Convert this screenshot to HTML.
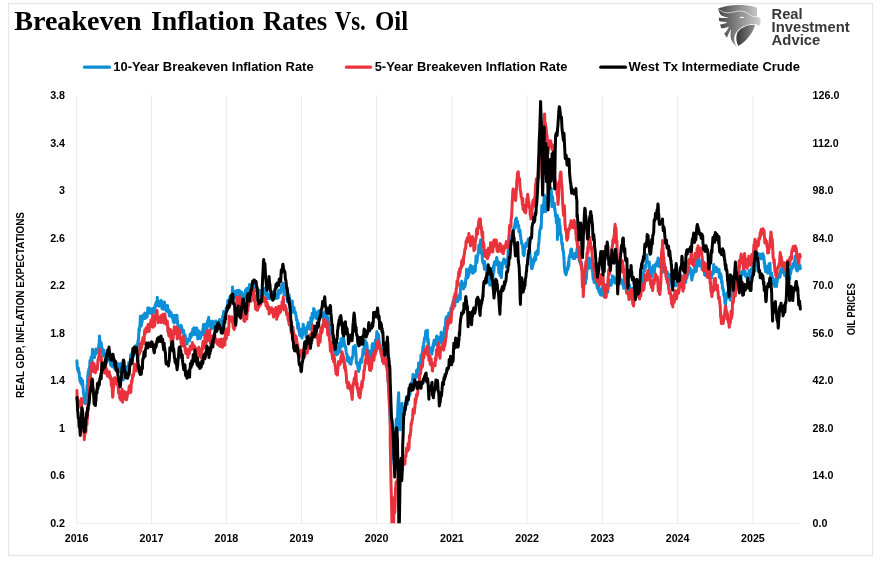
<!DOCTYPE html>
<html><head><meta charset="utf-8"><title>Breakeven Inflation Rates Vs. Oil</title>
<style>html,body{margin:0;padding:0;background:#fff;}body{width:882px;height:565px;position:relative;overflow:hidden}</style>
</head><body>
<svg width="882" height="565" viewBox="0 0 882 565" style="position:absolute;left:0;top:0">
<defs><clipPath id="pc"><rect x="70" y="90" width="740" height="433.3"/></clipPath><linearGradient id="lgA" x1="0" y1="0" x2="1" y2="0"><stop offset="0" stop-color="#3a3a3a"/><stop offset="1" stop-color="#b4b4b4"/></linearGradient><linearGradient id="lgB" x1="0" y1="0" x2="1" y2="0"><stop offset="0" stop-color="#454545"/><stop offset="0.5" stop-color="#8c8c8c"/><stop offset="1" stop-color="#d0d0d0"/></linearGradient><linearGradient id="lgC" x1="0" y1="0" x2="1" y2="0"><stop offset="0" stop-color="#363636"/><stop offset="1" stop-color="#8e8e8e"/></linearGradient></defs>
<rect x="0" y="0" width="882" height="565" fill="#fff"/>
<rect x="8.5" y="3.5" width="864" height="552" fill="none" stroke="#e6e6e6" stroke-width="1.2"/>
<path d="M76.6 95.5 V523.0 M151.5 95.5 V523.0 M226.4 95.5 V523.0 M301.5 95.5 V523.0 M376.6 95.5 V523.0 M451.9 95.5 V523.0 M527.1 95.5 V523.0 M602.4 95.5 V523.0 M677.6 95.5 V523.0 M752.9 95.5 V523.0 M76.5 523.5 H800.0" stroke="#ececec" stroke-width="1" fill="none"/>
<g clip-path="url(#pc)" fill="none" stroke-linejoin="round" stroke-linecap="round">
<path d="M76.9 360.8 L77.2 366.1 L77.5 369.8 L77.8 369.0 L78.1 368.0 L78.4 368.2 L78.6 372.5 L78.9 372.7 L79.2 372.1 L79.5 376.8 L79.8 379.0 L80.1 381.5 L80.3 379.5 L80.6 381.8 L80.9 383.2 L81.2 378.4 L81.5 381.2 L81.7 380.8 L82.0 385.1 L82.3 380.3 L82.6 381.3 L82.9 387.2 L83.2 388.6 L83.4 393.0 L83.7 393.3 L84.0 396.9 L84.3 402.2 L84.6 403.2 L84.9 402.7 L85.2 400.1 L85.5 403.7 L85.8 400.5 L86.0 399.0 L86.3 395.1 L86.6 393.9 L86.9 388.5 L87.1 385.6 L87.4 383.9 L87.7 377.0 L88.0 374.5 L88.3 371.5 L88.6 374.9 L88.8 369.0 L89.1 368.9 L89.4 368.3 L89.7 365.2 L90.0 360.4 L90.3 364.5 L90.5 361.9 L90.8 363.3 L91.1 357.6 L91.4 356.8 L91.7 359.9 L92.0 360.6 L92.3 352.9 L92.5 349.3 L92.8 350.3 L93.1 353.6 L93.4 353.5 L93.7 354.2 L94.0 351.4 L94.2 354.7 L94.5 357.5 L94.8 354.8 L95.1 350.7 L95.4 350.8 L95.7 354.3 L95.9 349.0 L96.2 351.0 L96.5 349.2 L96.8 350.4 L97.1 349.7 L97.4 349.5 L97.7 352.5 L98.0 350.2 L98.3 351.1 L98.6 347.0 L98.9 344.1 L99.2 344.6 L99.5 336.0 L99.8 339.4 L100.1 343.0 L100.4 341.8 L100.7 346.7 L101.0 346.8 L101.3 343.1 L101.6 347.4 L101.9 347.3 L102.2 348.8 L102.5 350.6 L102.8 355.0 L103.1 354.0 L103.4 353.7 L103.7 354.9 L104.0 350.2 L104.3 356.6 L104.6 353.4 L104.9 356.4 L105.1 353.9 L105.4 353.8 L105.7 355.6 L106.0 362.0 L106.3 361.3 L106.6 358.0 L106.9 357.7 L107.2 355.6 L107.5 357.8 L107.8 357.3 L108.1 360.5 L108.4 356.5 L108.7 357.9 L109.0 357.2 L109.3 357.4 L109.6 361.2 L109.9 361.2 L110.2 362.4 L110.5 364.6 L110.8 365.3 L111.1 359.3 L111.4 362.2 L111.7 357.5 L112.0 360.5 L112.3 366.8 L112.6 363.9 L112.9 362.8 L113.2 364.0 L113.5 364.3 L113.8 364.6 L114.0 363.0 L114.3 367.4 L114.6 368.7 L114.9 366.2 L115.3 366.7 L115.6 367.7 L115.9 369.0 L116.2 367.9 L116.5 368.2 L116.8 365.9 L117.1 363.1 L117.4 363.5 L117.7 367.5 L118.0 368.8 L118.3 367.2 L118.6 364.8 L118.9 366.5 L119.2 370.6 L119.5 371.5 L119.7 366.9 L120.0 367.0 L120.3 363.7 L120.6 363.5 L120.9 367.8 L121.2 369.7 L121.4 373.4 L121.7 376.3 L122.0 376.9 L122.3 379.1 L122.6 375.9 L122.9 372.0 L123.1 374.2 L123.4 380.0 L123.7 375.5 L124.0 369.6 L124.3 370.5 L124.6 373.3 L124.9 368.1 L125.2 370.8 L125.5 368.1 L125.8 371.8 L126.1 371.7 L126.3 370.3 L126.6 374.0 L126.9 369.1 L127.2 366.5 L127.5 371.9 L127.8 366.2 L128.2 371.5 L128.5 367.2 L128.8 362.6 L129.1 363.2 L129.4 363.2 L129.7 362.9 L130.0 361.3 L130.3 363.5 L130.6 355.1 L130.9 356.2 L131.2 356.8 L131.5 361.8 L131.8 353.4 L132.1 354.1 L132.4 351.9 L132.7 351.8 L133.0 354.5 L133.3 354.4 L133.6 356.5 L133.9 351.6 L134.3 351.6 L134.6 353.3 L134.9 352.8 L135.2 349.0 L135.5 350.8 L135.8 345.7 L136.1 350.2 L136.5 347.1 L136.8 344.7 L137.0 344.3 L137.3 345.1 L137.6 347.1 L137.9 342.5 L138.2 339.7 L138.5 340.6 L138.7 334.8 L139.0 328.8 L139.3 331.4 L139.6 327.4 L139.8 328.0 L140.1 323.0 L140.4 316.2 L140.7 321.4 L141.0 322.4 L141.3 326.0 L141.6 324.1 L141.8 322.5 L142.1 322.2 L142.4 319.2 L142.7 319.0 L143.0 314.9 L143.3 317.8 L143.6 315.1 L143.9 314.6 L144.2 317.0 L144.5 318.0 L144.8 313.1 L145.1 318.6 L145.4 313.6 L145.7 315.4 L146.0 316.2 L146.3 314.5 L146.6 313.6 L146.9 317.3 L147.2 316.1 L147.5 314.4 L147.8 307.9 L148.1 308.2 L148.4 313.0 L148.8 312.1 L149.1 308.7 L149.4 308.2 L149.7 308.8 L150.0 311.5 L150.3 311.7 L150.6 313.2 L150.9 309.1 L151.2 312.2 L151.5 309.5 L151.8 309.0 L152.1 313.9 L152.4 311.4 L152.7 309.9 L153.0 309.1 L153.3 308.4 L153.6 312.2 L153.9 312.4 L154.3 310.3 L154.6 307.6 L154.9 308.2 L155.2 305.0 L155.5 304.7 L155.8 303.8 L156.1 302.2 L156.4 304.9 L156.7 305.6 L157.0 305.4 L157.3 297.3 L157.6 304.2 L157.9 304.0 L158.1 301.2 L158.4 301.5 L158.7 304.8 L159.0 306.2 L159.3 306.1 L159.6 304.2 L159.9 303.2 L160.2 304.9 L160.5 303.2 L160.8 300.5 L161.1 300.3 L161.4 301.4 L161.7 303.0 L162.0 308.8 L162.2 301.8 L162.5 304.3 L162.8 303.9 L163.1 305.0 L163.4 308.3 L163.7 309.3 L164.0 306.4 L164.2 304.5 L164.5 302.1 L164.8 304.6 L165.1 309.1 L165.4 307.0 L165.7 308.9 L166.0 309.8 L166.3 309.5 L166.6 311.3 L166.9 309.1 L167.2 306.7 L167.5 305.4 L167.8 310.6 L168.1 309.5 L168.4 309.5 L168.7 312.8 L169.0 310.1 L169.3 316.0 L169.6 315.6 L169.9 312.7 L170.2 311.8 L170.5 316.1 L170.8 312.2 L171.1 312.6 L171.4 314.6 L171.7 316.2 L172.0 316.6 L172.3 318.0 L172.6 316.9 L172.9 317.5 L173.2 321.5 L173.5 321.2 L173.8 318.5 L174.1 323.0 L174.4 315.3 L174.7 317.9 L175.0 320.4 L175.3 322.1 L175.6 320.6 L175.9 318.8 L176.2 320.7 L176.4 320.3 L176.7 322.3 L177.0 315.2 L177.3 321.4 L177.6 321.2 L177.9 326.1 L178.1 327.8 L178.4 328.5 L178.7 326.1 L179.0 327.7 L179.3 326.5 L179.6 327.8 L179.9 327.6 L180.2 325.9 L180.5 332.8 L180.8 332.3 L181.1 325.3 L181.4 330.8 L181.7 327.3 L182.0 329.4 L182.3 329.7 L182.6 330.3 L182.9 332.8 L183.2 332.7 L183.5 330.2 L183.8 333.3 L184.1 335.7 L184.4 340.7 L184.7 337.5 L185.0 334.9 L185.3 336.5 L185.6 340.3 L185.9 338.2 L186.2 338.4 L186.5 342.2 L186.8 342.6 L187.1 343.9 L187.3 341.3 L187.6 339.5 L187.9 339.8 L188.2 340.0 L188.5 339.2 L188.8 340.5 L189.0 340.9 L189.3 340.8 L189.6 340.4 L189.9 336.5 L190.2 334.3 L190.5 338.1 L190.8 337.2 L191.1 336.9 L191.4 333.3 L191.7 334.2 L192.0 333.2 L192.3 331.8 L192.6 331.5 L192.9 328.8 L193.2 331.5 L193.5 334.8 L193.8 330.8 L194.1 331.1 L194.4 327.8 L194.7 330.7 L195.0 334.3 L195.3 328.6 L195.6 329.5 L195.9 334.4 L196.2 333.8 L196.5 333.4 L196.8 328.1 L197.1 331.5 L197.4 335.7 L197.7 338.9 L198.0 338.4 L198.3 335.2 L198.5 334.0 L198.8 330.9 L199.1 331.9 L199.4 338.0 L199.7 337.2 L200.0 334.0 L200.3 338.7 L200.6 332.2 L200.9 336.9 L201.2 334.0 L201.4 334.1 L201.7 334.5 L202.0 333.1 L202.3 334.6 L202.6 331.5 L202.9 329.0 L203.2 327.3 L203.5 324.5 L203.8 325.2 L204.1 329.5 L204.4 330.4 L204.7 332.0 L205.0 335.7 L205.3 331.7 L205.6 329.6 L205.9 324.1 L206.2 324.7 L206.5 331.0 L206.8 328.8 L207.1 326.2 L207.4 326.3 L207.7 320.6 L208.0 321.1 L208.4 320.0 L208.7 317.3 L209.0 323.6 L209.3 326.1 L209.6 324.0 L209.9 324.4 L210.2 321.2 L210.5 323.8 L210.8 325.5 L211.1 328.0 L211.4 329.0 L211.7 326.6 L212.0 324.2 L212.3 321.6 L212.6 321.2 L212.9 324.2 L213.2 325.1 L213.5 324.1 L213.8 327.8 L214.2 326.8 L214.5 324.9 L214.8 323.8 L215.1 324.2 L215.4 321.8 L215.7 321.0 L216.0 324.2 L216.3 323.1 L216.6 323.5 L216.9 327.6 L217.2 325.5 L217.5 328.7 L217.8 326.6 L218.1 329.5 L218.4 327.8 L218.7 321.4 L219.0 326.7 L219.3 324.8 L219.6 319.6 L220.0 322.9 L220.3 324.1 L220.6 320.7 L220.9 321.2 L221.2 324.2 L221.5 327.3 L221.8 327.6 L222.1 327.2 L222.4 326.3 L222.7 316.3 L223.0 316.7 L223.3 318.7 L223.6 311.6 L223.9 317.3 L224.2 319.1 L224.5 315.0 L224.8 314.1 L225.1 311.6 L225.4 312.4 L225.7 312.0 L226.0 311.3 L226.2 307.9 L226.5 309.6 L226.8 307.7 L227.1 309.6 L227.4 308.1 L227.7 302.3 L228.0 300.2 L228.3 302.9 L228.6 302.0 L228.9 303.8 L229.2 304.8 L229.5 302.8 L229.8 297.4 L230.1 296.4 L230.4 300.1 L230.7 296.9 L231.0 300.7 L231.3 298.4 L231.6 298.7 L231.9 294.7 L232.2 294.8 L232.5 287.1 L232.8 290.8 L233.1 293.6 L233.4 291.5 L233.7 291.1 L234.0 293.2 L234.2 294.5 L234.5 293.0 L234.8 296.5 L235.1 292.1 L235.4 297.7 L235.7 293.6 L236.0 293.2 L236.2 298.2 L236.5 293.9 L236.8 290.5 L237.1 293.5 L237.4 291.8 L237.7 290.7 L238.0 291.3 L238.2 291.3 L238.5 290.7 L238.8 290.3 L239.1 296.7 L239.4 293.1 L239.7 296.0 L240.0 290.9 L240.3 294.6 L240.6 291.8 L240.9 293.2 L241.2 296.9 L241.4 295.6 L241.7 291.9 L242.0 294.6 L242.3 296.9 L242.6 299.9 L242.9 297.4 L243.2 297.7 L243.5 298.4 L243.8 294.1 L244.1 296.2 L244.4 294.9 L244.7 297.4 L245.0 296.6 L245.3 295.9 L245.6 289.7 L245.9 293.2 L246.2 293.0 L246.5 290.9 L246.8 290.7 L247.0 288.2 L247.3 290.4 L247.6 291.9 L247.9 291.7 L248.2 288.9 L248.5 293.4 L248.7 292.8 L249.0 288.0 L249.3 288.2 L249.6 284.4 L249.9 286.9 L250.2 290.0 L250.4 292.6 L250.7 289.3 L251.0 284.8 L251.3 287.4 L251.6 292.3 L251.9 291.0 L252.2 293.2 L252.5 292.7 L252.8 294.2 L253.1 292.2 L253.4 288.2 L253.7 289.4 L253.9 295.0 L254.2 289.1 L254.5 283.6 L254.8 291.5 L255.1 290.5 L255.4 287.7 L255.7 287.1 L256.0 284.8 L256.3 289.9 L256.6 290.5 L256.9 289.0 L257.2 289.3 L257.5 289.6 L257.8 293.8 L258.1 292.0 L258.4 295.5 L258.7 291.1 L259.0 290.2 L259.3 290.3 L259.6 290.2 L259.9 291.4 L260.2 294.7 L260.5 296.4 L260.8 291.3 L261.1 295.4 L261.4 293.9 L261.7 297.1 L262.0 293.8 L262.3 290.9 L262.6 294.1 L262.9 294.7 L263.2 292.2 L263.5 292.6 L263.8 293.0 L264.2 293.5 L264.5 288.6 L264.8 288.2 L265.1 291.4 L265.4 293.2 L265.7 292.0 L266.0 288.6 L266.2 295.3 L266.5 293.7 L266.8 291.3 L267.1 297.3 L267.4 298.4 L267.7 298.6 L268.0 298.5 L268.3 297.9 L268.6 294.0 L268.9 295.4 L269.2 296.9 L269.5 298.3 L269.8 298.6 L270.1 295.1 L270.4 295.1 L270.7 296.0 L271.0 296.5 L271.3 294.8 L271.6 291.8 L271.9 292.2 L272.2 296.1 L272.5 296.7 L272.8 298.3 L273.1 292.5 L273.4 294.2 L273.7 298.0 L274.0 291.9 L274.3 291.9 L274.6 290.3 L274.9 296.9 L275.2 296.1 L275.5 294.1 L275.8 295.2 L276.1 294.8 L276.4 297.0 L276.7 298.4 L277.0 298.1 L277.3 296.4 L277.6 296.7 L277.9 296.8 L278.2 297.6 L278.5 290.2 L278.8 293.0 L279.0 293.2 L279.3 293.3 L279.6 292.2 L279.9 292.0 L280.2 293.2 L280.5 292.7 L280.8 292.1 L281.1 288.7 L281.4 286.8 L281.7 287.3 L282.0 284.6 L282.3 286.7 L282.6 286.4 L282.9 284.1 L283.2 283.1 L283.5 286.5 L283.8 287.5 L284.0 294.9 L284.3 294.3 L284.6 290.0 L284.9 289.8 L285.2 288.8 L285.5 289.4 L285.8 291.1 L286.1 292.8 L286.4 292.4 L286.7 296.3 L287.0 297.6 L287.3 301.7 L287.6 295.3 L287.9 298.5 L288.2 297.3 L288.5 294.2 L288.8 296.8 L289.1 294.7 L289.4 298.4 L289.7 307.1 L290.0 306.9 L290.3 308.5 L290.6 307.9 L290.9 301.2 L291.2 304.3 L291.4 305.1 L291.7 306.6 L292.0 303.9 L292.3 301.0 L292.6 310.7 L292.9 312.3 L293.2 311.1 L293.5 309.1 L293.8 310.4 L294.1 307.6 L294.4 312.6 L294.7 312.7 L294.9 312.3 L295.2 311.8 L295.5 312.9 L295.8 315.0 L296.1 315.4 L296.4 319.8 L296.6 320.4 L296.9 320.8 L297.2 319.9 L297.5 325.8 L297.8 328.6 L298.1 328.9 L298.4 323.3 L298.6 325.8 L298.9 330.8 L299.2 330.9 L299.5 334.8 L299.8 332.3 L300.1 335.1 L300.3 335.9 L300.6 329.3 L300.9 332.7 L301.2 334.8 L301.5 335.1 L301.8 333.2 L302.0 338.0 L302.3 334.6 L302.6 335.0 L302.9 329.0 L303.2 324.3 L303.5 326.0 L303.7 329.4 L304.0 327.9 L304.3 330.7 L304.6 332.5 L304.9 330.1 L305.2 330.4 L305.5 328.9 L305.7 333.2 L306.0 336.5 L306.3 333.6 L306.6 329.4 L306.9 326.9 L307.2 326.5 L307.5 328.8 L307.8 324.8 L308.1 328.6 L308.4 322.5 L308.7 323.3 L309.0 326.7 L309.3 328.8 L309.6 323.7 L309.9 324.7 L310.2 329.2 L310.5 327.1 L310.8 317.6 L311.1 320.3 L311.4 326.3 L311.7 318.7 L312.0 320.7 L312.2 313.3 L312.5 319.4 L312.8 314.9 L313.1 316.9 L313.4 317.3 L313.7 308.5 L314.0 309.0 L314.3 313.6 L314.6 310.6 L314.9 313.4 L315.2 312.1 L315.5 317.5 L315.8 314.8 L316.1 312.9 L316.3 316.2 L316.6 318.7 L316.9 316.1 L317.2 316.2 L317.5 316.7 L317.8 314.3 L318.1 311.6 L318.4 315.0 L318.7 313.9 L319.0 310.8 L319.3 315.3 L319.6 316.0 L319.9 315.5 L320.2 313.2 L320.5 313.8 L320.8 316.1 L321.1 316.7 L321.4 313.7 L321.7 312.5 L322.0 315.3 L322.3 315.9 L322.6 317.6 L322.9 313.0 L323.2 316.5 L323.5 319.7 L323.8 318.6 L324.1 316.1 L324.4 317.0 L324.7 311.7 L325.0 311.8 L325.3 318.0 L325.6 311.8 L325.8 311.4 L326.1 316.8 L326.4 315.5 L326.7 315.8 L327.0 315.1 L327.3 322.5 L327.6 320.0 L327.9 320.6 L328.2 317.5 L328.5 323.6 L328.8 324.5 L329.0 326.7 L329.3 330.8 L329.6 329.3 L329.9 326.0 L330.2 326.0 L330.5 329.4 L330.8 334.3 L331.1 330.4 L331.4 332.0 L331.7 333.5 L332.0 336.7 L332.3 334.5 L332.6 337.5 L332.9 340.3 L333.2 339.9 L333.5 341.2 L333.8 344.8 L334.1 347.3 L334.3 351.1 L334.6 347.8 L334.9 353.8 L335.2 353.5 L335.2 351.1 L335.5 351.3 L335.8 349.5 L336.1 351.4 L336.4 355.0 L336.7 347.9 L337.0 348.0 L337.3 352.8 L337.6 351.6 L337.9 353.9 L338.2 349.2 L338.5 350.0 L338.7 343.2 L339.0 344.8 L339.3 348.8 L339.6 350.8 L339.9 352.0 L340.2 347.6 L340.5 343.7 L340.8 343.2 L341.1 338.8 L341.3 345.1 L341.6 346.5 L341.9 341.3 L342.2 346.0 L342.5 339.3 L342.8 341.3 L343.1 338.2 L343.4 336.0 L343.7 341.2 L344.0 339.8 L344.3 345.9 L344.6 343.4 L344.9 345.7 L345.2 345.6 L345.5 347.8 L345.8 347.3 L346.1 351.4 L346.4 353.4 L346.7 353.7 L347.0 354.2 L347.2 360.6 L347.5 357.0 L347.8 357.3 L348.1 361.4 L348.4 361.1 L348.7 357.3 L348.9 360.2 L349.2 361.1 L349.5 360.3 L349.8 363.5 L350.1 361.7 L350.4 362.0 L350.7 359.1 L351.0 364.2 L351.3 360.6 L351.6 360.4 L351.9 359.2 L352.2 359.2 L352.5 356.3 L352.7 356.9 L353.0 354.9 L353.3 347.1 L353.6 350.7 L353.9 347.2 L354.2 351.0 L354.4 349.9 L354.7 349.9 L355.0 345.5 L355.3 345.9 L355.6 349.5 L355.9 353.8 L356.1 353.8 L356.4 363.3 L356.7 363.8 L357.0 363.6 L357.3 362.2 L357.6 364.4 L357.8 366.5 L358.1 367.7 L358.4 370.0 L358.7 371.5 L359.0 364.9 L359.3 367.0 L359.5 369.3 L359.8 363.2 L360.1 363.4 L360.4 362.4 L360.7 359.3 L361.0 362.8 L361.3 360.1 L361.5 362.2 L361.8 360.3 L362.1 357.2 L362.4 356.8 L362.7 354.3 L363.0 349.5 L363.3 354.8 L363.5 353.3 L363.8 354.0 L364.1 346.0 L364.4 349.7 L364.7 349.7 L365.0 346.8 L365.2 340.5 L365.5 343.6 L365.8 342.5 L366.1 343.1 L366.3 343.7 L366.6 342.7 L366.9 345.1 L367.2 347.0 L367.5 352.1 L367.8 350.6 L368.0 357.1 L368.3 351.1 L368.6 351.8 L368.9 356.0 L369.2 350.7 L369.5 354.7 L369.8 355.9 L370.0 354.2 L370.3 354.9 L370.6 358.6 L370.9 354.2 L371.2 354.0 L371.5 353.7 L371.8 355.0 L372.0 346.6 L372.3 344.6 L372.6 343.6 L372.9 345.4 L373.2 348.0 L373.5 349.1 L373.7 346.3 L374.0 349.5 L374.3 346.3 L374.6 346.7 L374.9 342.8 L375.2 344.2 L375.4 339.9 L375.7 342.2 L376.0 341.4 L376.3 342.7 L376.6 336.4 L376.9 331.4 L377.1 336.1 L377.4 337.0 L377.7 335.7 L378.0 333.7 L378.3 339.0 L378.6 334.5 L378.8 337.2 L379.1 342.9 L379.4 342.2 L379.7 344.5 L380.0 346.2 L380.3 347.7 L380.5 350.2 L380.8 350.8 L381.1 349.4 L381.4 347.7 L381.7 350.4 L382.0 351.3 L382.3 355.2 L382.5 359.6 L382.8 361.0 L383.1 357.0 L383.4 357.7 L383.7 357.3 L384.0 355.8 L384.3 359.6 L384.5 359.1 L384.8 358.1 L385.1 353.6 L385.4 348.4 L385.7 353.1 L386.0 360.6 L386.2 360.9 L386.5 362.6 L386.8 363.7 L387.1 367.0 L387.4 368.1 L387.7 376.6 L387.9 377.8 L388.2 380.6 L388.5 388.8 L388.8 392.7 L389.1 399.3 L389.4 405.6 L389.7 410.8 L390.1 417.9 L390.4 425.4 L390.7 429.7 L391.0 429.4 L391.2 440.9 L391.5 443.5 L391.8 447.5 L392.1 449.4 L392.5 450.2 L392.8 451.1 L393.1 454.5 L393.4 459.2 L393.7 459.0 L394.0 464.2 L394.2 464.1 L394.5 463.9 L394.8 456.5 L395.2 443.7 L395.4 436.5 L395.7 431.2 L396.0 424.6 L396.3 419.1 L396.5 425.2 L396.8 427.9 L397.1 433.1 L397.3 428.1 L397.6 415.5 L397.9 406.5 L398.1 402.3 L398.4 396.4 L398.7 392.7 L398.9 400.1 L399.2 408.9 L399.5 411.7 L399.7 416.5 L400.0 421.4 L400.3 429.7 L400.5 420.6 L400.8 417.2 L401.1 414.5 L401.3 412.8 L401.6 407.8 L401.8 404.0 L402.1 403.4 L402.4 408.0 L402.7 411.7 L403.0 411.3 L403.3 415.5 L403.6 414.8 L403.9 413.0 L404.2 411.1 L404.6 411.6 L404.9 408.9 L405.2 408.9 L405.5 405.4 L405.8 407.0 L406.1 400.1 L406.4 398.3 L406.7 404.2 L407.0 403.6 L407.3 404.1 L407.6 397.3 L407.9 398.0 L408.2 398.2 L408.5 397.5 L408.8 393.8 L409.1 396.0 L409.4 393.5 L409.7 387.6 L410.0 394.4 L410.3 390.3 L410.6 391.0 L410.9 385.9 L411.2 383.0 L411.5 386.0 L411.8 386.4 L412.1 382.1 L412.4 382.6 L412.7 378.2 L413.0 374.4 L413.3 380.5 L413.6 376.6 L413.9 379.5 L414.2 380.9 L414.5 379.2 L414.8 381.1 L415.1 378.3 L415.4 376.7 L415.7 375.0 L416.0 375.0 L416.3 374.4 L416.6 370.4 L416.9 370.9 L417.2 369.7 L417.5 377.0 L417.8 375.0 L418.1 368.6 L418.3 369.3 L418.6 363.0 L418.9 364.8 L419.2 369.4 L419.5 366.0 L419.8 367.3 L420.1 363.0 L420.4 363.0 L420.7 362.3 L421.0 354.9 L421.0 365.6 L421.1 361.5 L421.3 355.5 L421.6 357.5 L421.9 358.4 L422.2 353.2 L422.4 352.9 L422.7 350.1 L423.0 346.3 L423.3 347.3 L423.6 346.6 L423.9 342.1 L424.2 341.2 L424.5 338.0 L424.8 338.8 L425.1 338.7 L425.4 335.4 L425.7 331.1 L426.0 335.1 L426.3 337.0 L426.5 331.3 L426.8 334.0 L427.1 334.1 L427.4 330.3 L427.7 342.1 L428.0 342.7 L428.3 339.0 L428.6 345.1 L428.9 346.4 L429.2 349.3 L429.5 349.2 L429.8 349.2 L430.1 352.2 L430.4 349.6 L430.7 350.6 L431.0 348.3 L431.3 348.0 L431.6 352.0 L431.9 354.1 L432.2 348.1 L432.5 349.7 L432.8 350.7 L433.1 344.2 L433.4 343.0 L433.7 346.6 L434.1 340.2 L434.3 342.5 L434.6 344.0 L434.9 343.2 L435.2 343.0 L435.5 344.2 L435.8 342.9 L436.1 341.6 L436.4 336.5 L436.7 338.5 L437.0 336.1 L437.3 340.5 L437.6 345.2 L437.9 344.8 L438.2 337.0 L438.4 343.0 L438.7 343.5 L439.0 341.4 L439.3 339.1 L439.6 343.5 L439.9 340.2 L440.2 340.0 L440.5 339.8 L440.8 341.4 L441.1 332.2 L441.4 339.9 L441.8 337.9 L442.1 338.7 L442.4 342.0 L442.7 343.0 L443.0 337.0 L443.3 340.2 L443.5 338.1 L443.8 334.0 L444.1 332.4 L444.4 328.1 L444.7 331.4 L445.0 332.9 L445.2 326.9 L445.5 323.9 L445.8 319.0 L446.1 317.9 L446.4 316.9 L446.7 318.7 L447.0 323.3 L447.3 322.8 L447.6 322.0 L447.9 316.4 L448.2 318.7 L448.5 315.1 L448.8 313.0 L449.1 316.0 L449.4 314.6 L449.7 320.2 L450.0 316.0 L450.4 312.8 L450.6 313.5 L450.9 308.2 L451.2 310.2 L451.5 312.4 L451.8 308.2 L452.1 305.3 L452.4 307.9 L452.7 302.6 L453.0 304.0 L453.3 301.7 L453.6 302.5 L453.9 299.5 L454.2 302.1 L454.5 302.9 L454.8 306.1 L455.1 301.8 L455.4 302.2 L455.7 296.8 L456.0 297.3 L456.3 300.0 L456.6 296.8 L456.9 298.8 L457.2 297.4 L457.5 300.3 L457.8 301.6 L458.1 299.3 L458.4 299.9 L458.8 296.2 L459.1 295.6 L459.4 295.6 L459.7 294.7 L460.0 293.6 L460.3 295.0 L460.3 299.3 L460.4 288.9 L460.7 283.3 L461.0 287.4 L461.2 283.1 L461.5 282.1 L461.8 281.2 L462.1 284.6 L462.4 284.7 L462.7 285.4 L463.0 287.2 L463.2 287.4 L463.5 288.9 L463.8 287.7 L464.1 286.4 L464.4 283.3 L464.7 286.4 L464.9 286.6 L465.2 285.1 L465.5 282.7 L465.8 278.4 L466.1 279.6 L466.4 274.1 L466.6 269.2 L466.9 270.3 L467.2 276.9 L467.5 275.5 L467.8 277.8 L468.1 272.3 L468.3 274.2 L468.6 275.7 L468.9 274.2 L469.2 271.4 L469.5 271.8 L469.8 267.5 L470.1 272.0 L470.4 266.3 L470.7 265.4 L471.0 267.1 L471.2 265.7 L471.5 271.7 L471.8 271.1 L472.1 267.4 L472.4 272.3 L472.7 273.3 L473.0 269.0 L473.3 272.4 L473.6 272.5 L473.9 268.2 L474.2 266.4 L474.4 267.9 L474.7 270.5 L475.0 271.4 L475.3 270.8 L475.6 264.8 L475.9 258.7 L476.1 256.0 L476.4 262.5 L476.7 262.8 L477.0 262.3 L477.3 258.1 L477.6 256.0 L477.8 255.3 L478.1 254.1 L478.4 251.8 L478.7 247.4 L479.0 245.0 L479.3 247.7 L479.5 247.5 L479.8 251.2 L480.1 245.9 L480.4 241.5 L480.7 239.7 L481.0 245.7 L481.2 253.1 L481.5 251.6 L481.8 251.2 L482.1 254.8 L482.4 260.0 L482.7 261.7 L482.9 262.4 L483.2 263.5 L483.5 261.5 L483.8 262.5 L484.1 264.4 L484.4 269.3 L484.6 261.6 L484.9 263.3 L485.2 266.6 L485.5 266.6 L485.8 267.2 L486.1 267.4 L486.3 266.2 L486.6 269.8 L486.9 273.8 L487.2 271.7 L487.5 273.6 L487.8 276.6 L488.1 273.9 L488.4 275.0 L488.7 272.9 L489.0 280.2 L489.3 283.7 L489.6 280.7 L489.9 285.3 L490.2 284.2 L490.5 277.3 L490.8 281.0 L491.1 281.9 L491.4 283.1 L491.7 284.2 L492.0 282.0 L492.3 283.0 L492.6 279.8 L492.8 281.4 L493.1 275.4 L493.4 265.9 L493.7 272.4 L494.0 269.8 L494.3 262.8 L494.5 262.8 L494.8 261.8 L495.1 265.2 L495.4 261.9 L495.7 264.7 L496.0 260.9 L496.3 262.7 L496.5 258.8 L496.8 257.4 L497.1 262.1 L497.4 262.5 L497.7 265.2 L498.0 261.4 L498.2 262.4 L498.5 265.2 L498.8 272.8 L499.1 272.2 L499.4 267.5 L499.7 262.8 L499.9 274.6 L500.2 275.6 L500.5 272.7 L500.8 275.5 L501.1 275.3 L501.4 277.5 L501.6 272.5 L501.9 268.0 L502.2 268.9 L502.5 262.7 L502.8 263.1 L503.1 261.6 L503.4 262.0 L503.6 260.2 L503.9 258.9 L504.2 259.2 L504.5 262.9 L504.8 263.0 L505.1 262.5 L505.4 263.4 L505.7 264.2 L506.0 263.5 L506.3 267.1 L506.6 263.5 L506.9 262.3 L507.2 259.4 L507.5 262.1 L507.8 262.5 L508.1 250.4 L508.4 254.8 L508.7 250.4 L508.9 251.5 L509.2 250.2 L509.5 245.3 L509.8 242.3 L510.1 243.0 L510.4 249.5 L510.7 240.9 L511.0 238.8 L511.3 237.3 L511.6 235.7 L511.9 237.6 L512.1 239.5 L512.4 233.8 L512.7 232.6 L513.0 229.8 L513.3 233.1 L513.6 229.6 L513.8 229.7 L514.1 226.9 L514.4 228.7 L514.7 225.9 L515.0 222.5 L515.3 227.9 L515.5 219.5 L515.8 221.5 L516.1 220.4 L516.4 218.1 L516.7 225.9 L517.0 224.6 L517.2 222.7 L517.5 221.3 L517.8 224.4 L518.1 225.1 L518.4 225.2 L518.7 225.3 L518.9 231.8 L519.2 231.7 L519.5 231.6 L519.8 229.7 L520.1 231.2 L520.4 236.5 L520.6 235.5 L520.9 239.6 L521.2 240.1 L521.5 242.4 L521.8 244.0 L522.1 243.5 L522.3 244.7 L522.6 246.0 L522.9 248.8 L523.2 254.8 L523.5 253.6 L523.8 248.2 L524.0 255.7 L524.3 253.0 L524.6 248.9 L524.9 248.6 L525.2 247.2 L525.5 246.5 L525.7 244.6 L526.0 243.1 L526.3 244.9 L526.6 246.5 L526.9 242.7 L527.2 244.7 L527.4 243.4 L527.7 243.3 L528.0 240.5 L528.3 239.0 L528.6 242.7 L528.9 241.2 L529.1 244.9 L529.4 244.9 L529.7 251.7 L530.0 254.0 L530.3 257.4 L530.6 258.1 L530.8 259.1 L531.1 265.6 L531.4 266.2 L531.7 268.7 L532.0 268.2 L532.2 268.3 L532.5 266.6 L532.8 262.5 L533.1 260.3 L533.4 264.0 L533.7 261.2 L533.9 260.1 L534.2 257.7 L534.5 261.0 L534.8 260.6 L535.1 257.4 L535.4 252.9 L535.7 259.8 L535.9 255.8 L536.2 252.5 L536.5 252.9 L536.8 251.3 L537.1 253.4 L537.4 252.6 L537.6 250.5 L537.9 254.3 L538.2 251.6 L538.5 243.5 L538.9 243.3 L539.2 237.9 L539.5 234.3 L539.8 230.3 L540.1 230.1 L540.3 228.9 L540.6 227.6 L540.9 225.7 L541.2 228.3 L541.5 218.3 L541.8 205.7 L542.1 207.9 L542.4 207.6 L542.7 206.3 L543.0 212.4 L543.3 212.1 L543.6 204.3 L544.0 199.2 L544.3 194.9 L544.6 196.0 L544.9 202.9 L545.2 203.0 L545.5 211.1 L545.8 211.5 L546.1 206.2 L546.4 202.6 L546.8 197.9 L547.1 204.0 L547.4 205.6 L547.7 203.9 L548.0 206.3 L548.3 206.7 L548.6 202.3 L548.9 201.2 L549.3 198.2 L549.6 199.2 L549.9 194.4 L550.2 194.2 L550.5 193.8 L550.8 193.4 L551.1 188.2 L551.5 194.6 L551.9 206.7 L552.2 200.5 L552.6 196.5 L553.0 203.0 L553.4 205.6 L553.7 204.2 L554.0 203.9 L554.4 203.4 L554.6 209.7 L554.9 208.4 L555.2 212.1 L555.5 216.3 L555.8 215.7 L556.1 218.4 L556.4 223.2 L556.7 216.8 L557.0 215.3 L557.4 215.8 L557.4 239.5 L557.7 233.6 L558.1 230.1 L558.3 232.7 L558.6 234.4 L558.9 227.5 L559.2 219.1 L559.4 224.3 L559.8 225.5 L560.1 226.6 L560.4 232.7 L560.7 233.5 L561.0 235.4 L561.3 235.4 L561.6 241.2 L561.9 244.3 L562.2 242.4 L562.4 243.8 L562.7 250.1 L563.0 248.7 L563.3 251.8 L563.7 254.3 L564.0 258.9 L564.3 265.6 L564.6 268.2 L564.9 271.8 L565.2 273.1 L565.4 268.0 L565.7 272.3 L566.0 274.8 L566.3 269.6 L566.6 273.0 L566.8 271.2 L567.1 268.5 L567.4 269.2 L567.7 269.6 L568.0 268.3 L568.3 263.4 L568.5 261.9 L568.8 266.5 L569.1 257.5 L569.4 256.8 L569.7 255.3 L570.0 257.4 L570.2 255.3 L570.5 252.8 L570.8 249.8 L571.1 251.9 L571.3 248.9 L571.6 249.2 L571.9 250.9 L572.2 253.8 L572.5 254.1 L572.8 255.6 L573.0 258.5 L573.3 256.5 L573.6 256.4 L573.9 256.9 L574.2 258.6 L574.5 258.7 L574.8 255.9 L575.1 253.4 L575.3 254.1 L575.6 253.8 L575.9 257.1 L576.2 257.1 L576.5 255.3 L576.8 251.4 L577.0 249.1 L577.3 251.6 L577.6 253.3 L577.9 252.9 L578.2 252.6 L578.5 255.2 L578.7 250.5 L579.0 257.4 L579.3 261.5 L579.6 260.3 L579.9 260.8 L580.2 260.6 L580.4 264.0 L580.7 261.4 L581.0 262.1 L581.3 265.5 L581.6 262.8 L581.9 267.5 L582.1 270.0 L582.4 270.7 L582.7 270.6 L583.0 277.2 L583.3 274.6 L583.6 276.4 L583.8 279.6 L584.1 279.3 L584.4 282.7 L584.7 282.0 L585.0 283.1 L585.2 283.7 L585.5 283.1 L585.8 278.4 L586.1 279.3 L586.4 278.7 L586.7 271.9 L586.9 267.1 L587.2 264.6 L587.5 264.3 L587.8 267.1 L588.1 265.5 L588.4 268.6 L588.6 268.1 L588.9 259.1 L589.2 257.9 L589.5 258.8 L589.8 264.3 L590.1 264.5 L590.3 265.3 L590.6 261.5 L590.9 267.8 L591.2 262.4 L591.5 265.2 L591.8 264.9 L592.0 266.3 L592.3 271.0 L592.6 271.0 L592.9 276.3 L593.2 279.0 L593.5 278.4 L593.7 279.8 L594.0 281.7 L594.3 282.5 L594.6 277.3 L594.9 280.2 L595.2 282.0 L595.4 279.8 L595.7 279.3 L596.0 283.4 L596.3 283.7 L596.6 282.8 L596.9 286.1 L597.2 286.2 L597.5 288.6 L597.7 284.4 L598.0 287.6 L598.3 282.1 L598.6 284.5 L598.9 292.2 L599.2 289.1 L599.4 291.0 L599.7 292.1 L600.0 292.9 L600.3 294.2 L600.6 295.0 L600.9 290.1 L601.1 288.9 L601.4 289.1 L601.7 289.2 L601.8 295.3 L602.1 292.7 L602.4 287.0 L602.7 289.5 L603.0 286.4 L603.3 287.9 L603.7 287.7 L604.0 294.4 L604.3 296.7 L604.6 295.4 L604.9 293.6 L605.2 286.9 L605.5 284.8 L605.8 288.5 L606.1 290.7 L606.4 290.6 L606.7 287.0 L607.0 285.2 L607.4 287.5 L607.7 292.3 L608.0 289.7 L608.3 286.4 L608.6 284.7 L608.9 285.1 L609.2 284.5 L609.5 279.9 L609.8 285.7 L610.1 284.8 L610.4 284.6 L610.6 281.8 L610.9 284.6 L611.2 285.2 L611.5 280.8 L611.8 283.6 L612.1 280.0 L612.4 275.7 L612.7 280.9 L613.0 277.9 L613.3 277.8 L613.6 276.7 L613.9 278.3 L614.2 278.0 L614.5 279.0 L614.8 280.0 L615.1 283.2 L615.4 281.1 L615.7 280.4 L616.0 279.9 L616.3 280.4 L616.6 281.1 L616.9 279.9 L617.2 275.9 L617.5 275.1 L617.8 278.1 L618.1 277.7 L618.5 277.4 L618.8 277.1 L619.1 276.7 L619.4 281.3 L619.7 282.4 L620.0 277.8 L620.4 280.0 L620.7 280.5 L621.0 279.8 L621.3 283.5 L621.6 283.2 L621.9 282.7 L622.2 280.5 L622.5 284.7 L622.8 284.7 L623.1 285.1 L623.4 283.1 L623.7 288.3 L624.1 278.8 L624.4 280.1 L624.7 280.2 L625.0 281.5 L625.3 283.0 L625.6 285.1 L625.9 286.7 L626.2 288.9 L626.5 292.5 L626.8 291.8 L627.1 290.5 L627.4 289.5 L627.7 290.5 L628.0 292.0 L628.3 288.7 L628.6 293.9 L628.9 291.3 L629.2 292.7 L629.5 284.9 L629.8 288.9 L630.1 288.9 L630.4 293.4 L630.7 294.1 L631.0 292.7 L631.3 293.0 L631.6 290.9 L631.9 288.7 L632.3 293.1 L632.6 288.8 L632.9 289.1 L633.2 287.7 L633.5 287.8 L633.8 289.2 L634.1 292.9 L634.4 289.7 L634.7 293.0 L635.0 287.1 L635.3 287.4 L635.6 287.2 L635.9 290.7 L636.2 293.3 L636.5 284.8 L636.8 287.6 L637.1 292.2 L637.4 289.5 L637.7 292.4 L638.0 291.9 L638.3 289.3 L638.6 283.8 L638.9 283.6 L639.2 288.5 L639.6 283.7 L639.9 281.1 L640.2 281.4 L640.5 285.4 L640.8 283.5 L641.1 278.3 L641.5 278.3 L641.8 281.2 L642.1 282.7 L642.4 283.4 L642.7 280.5 L643.0 278.7 L643.3 273.8 L643.6 272.4 L643.9 269.3 L644.2 270.2 L644.5 271.0 L644.8 269.4 L645.1 265.5 L645.4 267.0 L645.7 267.5 L646.0 267.5 L646.3 258.8 L646.6 254.7 L646.9 256.1 L647.2 260.3 L647.4 262.6 L647.7 262.2 L648.0 261.7 L648.3 262.8 L648.6 262.7 L648.9 262.3 L649.3 262.1 L649.6 273.3 L649.9 268.7 L650.2 269.6 L650.5 270.3 L650.8 271.8 L651.1 270.3 L651.4 272.7 L651.7 276.6 L652.0 270.9 L652.3 268.9 L652.6 267.0 L652.9 267.8 L653.2 265.8 L653.5 268.9 L653.8 270.7 L654.1 272.2 L654.4 272.5 L654.7 268.0 L655.0 267.4 L655.3 264.4 L655.6 265.1 L655.9 265.0 L656.2 266.0 L656.5 264.8 L656.9 261.7 L657.2 265.7 L657.5 264.1 L657.8 260.3 L658.1 258.0 L658.4 263.1 L658.7 258.5 L659.0 263.0 L659.3 266.5 L659.6 265.2 L659.9 265.3 L660.2 264.6 L660.5 262.9 L660.8 265.3 L661.0 261.8 L661.3 267.7 L661.6 270.8 L661.9 270.3 L662.2 272.5 L662.6 270.3 L662.9 265.7 L663.2 272.1 L663.5 271.1 L663.8 269.1 L664.1 268.7 L664.4 269.1 L664.8 270.9 L665.1 268.0 L665.4 270.7 L665.7 270.7 L666.0 273.4 L666.3 272.1 L666.6 274.3 L667.0 271.4 L667.3 273.7 L667.6 273.2 L667.9 276.8 L668.2 276.6 L668.5 278.5 L668.9 275.7 L669.2 274.7 L669.5 276.1 L669.8 274.4 L670.1 276.0 L670.4 280.7 L670.7 276.7 L671.0 276.8 L671.3 278.8 L671.6 283.6 L671.9 286.8 L672.2 281.5 L672.5 280.1 L672.8 281.7 L673.2 280.2 L673.5 276.6 L673.8 282.1 L674.1 283.7 L674.4 284.3 L674.7 285.4 L675.0 285.0 L675.3 283.1 L675.6 285.7 L675.9 285.2 L676.2 285.7 L676.5 282.9 L676.8 284.6 L677.1 284.8 L677.4 282.7 L677.7 282.1 L678.0 282.6 L678.3 283.7 L678.6 282.4 L678.9 280.7 L679.1 282.9 L679.4 280.3 L679.7 283.1 L680.0 281.1 L680.3 281.6 L680.7 284.7 L681.0 277.2 L681.3 276.4 L681.6 277.9 L681.9 279.1 L682.2 277.3 L682.6 276.3 L682.9 276.4 L683.2 275.9 L683.5 278.8 L683.8 278.0 L684.1 279.2 L684.4 280.4 L684.8 282.6 L685.1 280.3 L685.4 280.2 L685.7 282.5 L686.0 275.5 L686.3 277.8 L686.6 275.4 L686.9 278.2 L687.2 275.4 L687.5 272.3 L687.8 275.2 L688.1 272.3 L688.4 270.2 L688.7 272.5 L689.0 267.1 L689.3 269.3 L689.7 272.0 L690.0 267.8 L690.3 272.9 L690.6 272.1 L690.9 271.8 L691.2 269.5 L691.5 277.0 L691.8 280.0 L692.1 277.5 L692.4 277.4 L692.7 271.2 L693.0 273.5 L693.3 274.6 L693.6 271.7 L693.9 270.5 L694.2 270.7 L694.5 268.9 L694.8 265.7 L695.1 270.3 L695.4 271.8 L695.7 271.2 L696.0 270.9 L696.3 271.2 L696.6 267.4 L696.9 259.1 L697.2 263.1 L697.5 262.6 L697.8 260.5 L698.1 263.4 L698.4 260.2 L698.7 258.2 L699.0 266.0 L699.3 261.3 L699.6 260.6 L699.9 262.7 L700.2 264.1 L700.4 263.6 L700.7 265.6 L701.0 265.5 L701.3 265.3 L701.6 265.7 L701.9 268.3 L702.2 269.7 L702.5 269.8 L702.8 265.2 L703.1 267.1 L703.4 269.8 L703.7 269.0 L704.0 271.3 L704.3 271.6 L704.6 274.8 L704.9 267.6 L705.2 271.6 L705.5 275.6 L705.7 275.5 L706.0 272.9 L706.3 272.9 L706.6 272.8 L706.9 275.0 L707.2 276.7 L707.6 274.2 L707.9 277.6 L708.2 277.5 L708.5 271.4 L708.8 273.7 L709.1 275.5 L709.4 275.0 L709.7 277.0 L710.0 277.6 L710.3 277.9 L710.6 277.9 L710.9 278.5 L711.2 276.1 L711.5 277.8 L711.8 272.1 L712.1 274.4 L712.5 273.4 L712.8 272.9 L713.1 274.1 L713.4 271.9 L713.7 264.4 L714.0 265.8 L714.3 269.1 L714.6 269.7 L714.9 269.1 L715.2 268.5 L715.5 271.6 L715.8 270.9 L716.1 268.0 L716.4 267.4 L716.7 271.6 L717.0 270.9 L717.3 271.7 L717.6 271.4 L717.9 272.1 L718.2 270.7 L718.5 269.4 L718.8 269.2 L719.1 269.6 L719.4 277.2 L719.7 277.6 L720.1 276.9 L720.4 276.9 L720.7 273.8 L721.0 279.2 L721.3 276.0 L721.5 282.8 L721.8 282.3 L722.1 280.9 L722.4 288.5 L722.7 286.5 L723.0 288.7 L723.2 291.0 L723.5 289.8 L723.8 295.3 L724.1 294.1 L724.4 296.9 L724.7 296.1 L724.9 303.3 L725.2 302.6 L725.5 306.5 L725.8 300.7 L726.1 299.4 L726.4 298.5 L726.6 295.8 L726.9 292.9 L727.2 296.5 L727.5 296.3 L727.8 295.8 L728.1 297.9 L728.3 290.2 L728.6 292.3 L728.9 297.4 L729.2 297.6 L729.5 298.5 L729.8 296.3 L730.0 296.6 L730.3 300.1 L730.6 295.8 L730.9 292.1 L731.2 291.7 L731.5 294.3 L731.8 290.4 L732.1 285.9 L732.4 288.3 L732.7 287.0 L733.0 287.2 L733.3 281.9 L733.6 281.1 L733.9 282.3 L734.2 283.8 L734.5 287.3 L734.8 287.1 L735.1 285.9 L735.4 284.5 L735.7 283.9 L736.0 282.3 L736.3 281.3 L736.6 278.0 L736.9 276.3 L737.3 279.7 L737.6 274.4 L737.9 273.9 L738.2 274.5 L738.5 275.5 L738.8 273.6 L739.1 273.2 L739.4 272.1 L739.7 271.7 L740.0 272.3 L740.3 281.8 L740.6 273.7 L740.9 279.8 L741.3 272.7 L741.6 273.6 L741.9 273.2 L742.2 274.7 L742.5 272.8 L742.8 270.6 L743.1 271.3 L743.5 272.3 L743.8 270.0 L744.1 272.9 L744.4 274.5 L744.7 271.4 L745.0 270.9 L745.4 276.2 L745.7 273.8 L746.0 273.8 L746.3 274.1 L746.6 274.3 L746.9 277.4 L747.2 277.8 L747.5 282.8 L747.8 277.7 L748.1 277.3 L748.4 274.2 L748.7 276.8 L749.0 271.1 L749.3 270.5 L749.6 271.4 L749.9 279.2 L750.2 280.3 L750.5 280.1 L750.8 274.9 L751.1 269.1 L751.4 272.2 L751.7 274.4 L752.0 270.3 L752.3 275.0 L752.6 276.3 L752.9 267.2 L753.2 266.9 L753.6 266.7 L753.9 266.3 L754.2 266.0 L754.5 265.9 L754.8 264.8 L755.1 271.0 L755.4 265.2 L755.7 260.9 L756.1 264.9 L756.4 265.5 L756.7 260.0 L757.0 258.2 L757.3 257.3 L757.6 253.3 L757.9 253.6 L758.3 257.7 L758.6 254.3 L758.9 255.4 L759.2 255.3 L759.5 254.1 L759.8 256.3 L760.1 256.2 L760.4 258.7 L760.7 257.2 L761.0 254.2 L761.3 258.7 L761.6 256.7 L762.0 257.0 L762.3 256.8 L762.6 255.5 L762.9 253.8 L763.2 258.9 L763.5 256.0 L763.8 256.3 L764.1 260.7 L764.3 263.4 L764.6 262.8 L764.9 268.5 L765.2 265.9 L765.5 271.7 L765.8 271.8 L766.1 269.4 L766.4 268.0 L766.7 271.5 L767.0 266.2 L767.3 270.9 L767.6 271.3 L767.9 273.2 L768.2 272.9 L768.5 269.5 L768.8 268.2 L769.1 263.7 L769.4 265.3 L769.7 264.3 L770.0 263.4 L770.3 271.8 L770.6 275.7 L770.9 273.3 L771.1 273.8 L771.4 279.8 L771.7 273.0 L772.0 278.4 L772.3 276.3 L772.6 278.4 L772.9 277.9 L773.2 282.3 L773.5 283.6 L773.8 281.1 L774.1 284.1 L774.4 285.1 L774.7 286.4 L775.0 280.8 L775.3 283.7 L775.6 282.6 L775.9 282.9 L776.2 278.6 L776.5 286.4 L776.8 282.9 L777.1 282.4 L777.4 277.0 L777.7 277.8 L778.0 278.6 L778.4 278.3 L778.7 274.6 L779.0 276.6 L779.3 275.0 L779.6 277.4 L779.9 272.7 L780.2 276.4 L780.5 271.8 L780.8 269.6 L781.1 272.2 L781.3 272.9 L781.6 272.1 L781.9 268.8 L782.2 267.8 L782.5 266.9 L782.8 272.3 L783.1 267.4 L783.4 267.7 L783.7 268.4 L784.0 273.4 L784.3 270.6 L784.6 275.3 L784.9 270.8 L785.2 269.3 L785.5 274.1 L785.8 276.1 L786.1 274.9 L786.5 279.0 L786.8 275.8 L787.1 274.4 L787.4 274.6 L787.7 278.5 L788.0 276.0 L788.3 280.2 L788.6 280.4 L788.9 279.6 L789.2 278.8 L789.5 279.5 L789.8 277.6 L790.1 269.7 L790.4 273.3 L790.7 273.7 L791.0 270.2 L791.3 266.6 L791.6 269.7 L791.9 267.0 L792.2 268.2 L792.5 265.9 L792.8 267.3 L793.1 264.0 L793.4 265.2 L793.8 264.3 L794.1 262.3 L794.4 261.5 L794.7 262.0 L795.0 256.3 L795.2 256.9 L795.5 263.0 L795.8 265.7 L796.1 267.9 L796.4 269.8 L796.7 266.5 L797.0 270.9 L797.3 271.0 L797.6 269.8 L797.9 267.8 L798.2 265.8 L798.5 265.2 L798.8 267.3 L799.1 267.2 L799.4 268.8 L799.7 267.8 L800.0 265.5 L800.3 268.7" stroke="#0d8fd8" stroke-width="3.0"/>
<path d="M76.9 390.5 L77.2 400.1 L77.5 396.9 L77.8 400.7 L78.1 403.3 L78.3 408.0 L78.6 402.3 L78.9 403.0 L79.2 402.2 L79.5 400.9 L79.8 401.1 L80.1 402.0 L80.3 402.9 L80.6 401.3 L80.9 404.5 L81.2 404.7 L81.5 398.5 L81.7 409.8 L82.0 410.5 L82.3 410.9 L82.6 416.6 L82.9 420.7 L83.2 423.9 L83.4 424.7 L83.7 430.1 L84.0 429.3 L84.3 439.7 L84.6 433.4 L84.9 433.4 L85.1 433.4 L85.4 433.2 L85.7 431.1 L86.0 431.7 L86.3 419.6 L86.6 424.2 L86.9 425.0 L87.2 418.9 L87.5 418.4 L87.9 407.3 L88.2 401.4 L88.5 389.6 L88.8 387.6 L89.1 381.5 L89.4 377.9 L89.7 386.2 L90.0 382.9 L90.3 378.1 L90.5 375.4 L90.8 368.3 L91.1 366.9 L91.4 370.1 L91.7 363.4 L92.0 367.3 L92.3 362.4 L92.5 365.4 L92.8 362.4 L93.1 370.5 L93.4 371.7 L93.7 368.3 L94.0 363.6 L94.2 365.6 L94.5 368.8 L94.8 367.7 L95.1 370.2 L95.4 372.7 L95.7 370.2 L95.9 367.9 L96.2 370.2 L96.5 367.5 L96.8 369.5 L97.1 365.9 L97.4 369.3 L97.7 364.4 L98.0 359.6 L98.3 360.5 L98.6 357.9 L98.9 355.4 L99.2 356.1 L99.5 358.0 L99.8 349.6 L100.0 354.0 L100.3 355.8 L100.6 357.0 L100.9 360.6 L101.2 356.5 L101.5 361.2 L101.7 360.8 L102.0 362.2 L102.3 362.3 L102.6 362.6 L102.9 362.7 L103.2 366.0 L103.4 372.5 L103.7 372.4 L104.0 371.3 L104.3 370.1 L104.6 366.6 L104.9 368.5 L105.2 373.2 L105.5 365.3 L105.8 368.4 L106.1 370.0 L106.4 368.4 L106.7 369.3 L107.0 372.0 L107.3 375.8 L107.6 375.0 L107.8 376.2 L108.1 373.3 L108.4 374.2 L108.7 373.1 L109.0 373.4 L109.3 371.7 L109.5 374.7 L109.8 378.3 L110.1 375.4 L110.4 375.9 L110.7 377.5 L111.0 379.0 L111.2 384.0 L111.5 385.7 L111.8 384.0 L112.1 385.7 L112.4 393.1 L112.7 397.3 L112.9 396.0 L113.2 391.0 L113.5 387.1 L113.8 378.6 L114.0 382.0 L114.3 377.9 L114.6 382.2 L114.9 377.7 L115.2 377.6 L115.5 380.0 L115.8 379.4 L116.1 378.5 L116.3 382.9 L116.6 384.0 L116.9 384.9 L117.2 384.0 L117.5 383.3 L117.8 384.9 L118.0 386.3 L118.3 389.1 L118.6 393.3 L118.9 392.6 L119.2 391.2 L119.5 391.9 L119.7 398.1 L120.0 397.8 L120.3 398.5 L120.6 399.6 L120.9 400.0 L121.2 398.5 L121.5 400.6 L121.8 400.0 L122.1 389.2 L122.4 392.7 L122.7 402.3 L123.0 393.4 L123.3 393.9 L123.6 396.5 L123.9 395.1 L124.2 398.8 L124.5 393.1 L124.8 391.6 L125.1 394.4 L125.4 394.3 L125.7 393.6 L126.0 398.4 L126.2 399.7 L126.5 399.8 L126.8 397.1 L127.1 397.3 L127.4 395.4 L127.7 392.2 L128.0 393.8 L128.2 393.1 L128.5 391.2 L128.8 392.0 L129.1 386.8 L129.4 387.2 L129.7 385.8 L130.0 390.1 L130.3 388.9 L130.6 392.5 L130.9 391.8 L131.2 385.6 L131.5 381.0 L131.8 382.6 L132.1 380.1 L132.4 378.7 L132.6 374.7 L132.9 377.0 L133.2 375.8 L133.5 375.0 L133.8 374.2 L134.1 370.0 L134.4 364.3 L134.7 367.3 L135.0 366.8 L135.3 366.4 L135.6 369.9 L135.9 367.7 L136.2 370.9 L136.5 367.8 L136.8 366.6 L137.0 364.5 L137.3 363.4 L137.6 356.1 L137.9 359.0 L138.2 356.0 L138.5 350.8 L138.8 353.1 L139.0 352.5 L139.3 354.3 L139.6 352.7 L139.9 350.5 L140.2 343.4 L140.5 349.6 L140.8 350.6 L141.1 348.3 L141.4 346.0 L141.7 347.0 L142.0 341.2 L142.3 343.1 L142.6 341.5 L142.9 337.7 L143.2 339.8 L143.5 340.1 L143.8 343.6 L144.1 342.4 L144.4 334.4 L144.7 330.0 L145.0 333.2 L145.3 333.5 L145.6 331.0 L145.9 328.1 L146.2 330.2 L146.5 327.7 L146.8 327.6 L147.1 331.4 L147.4 330.5 L147.7 327.1 L148.0 324.6 L148.3 326.0 L148.6 331.6 L148.9 326.9 L149.2 331.3 L149.5 325.4 L149.8 324.6 L150.1 326.6 L150.4 322.8 L150.7 323.7 L151.0 319.9 L151.2 324.0 L151.5 326.6 L151.8 322.3 L152.1 322.9 L152.4 321.3 L152.7 315.6 L153.0 327.2 L153.3 325.1 L153.6 324.4 L153.9 322.5 L154.3 320.8 L154.6 326.0 L154.9 315.6 L155.2 315.8 L155.5 315.2 L155.8 315.2 L156.1 317.3 L156.4 313.6 L156.7 310.2 L157.0 310.4 L157.3 315.2 L157.6 318.7 L157.9 319.9 L158.1 322.8 L158.4 318.3 L158.7 321.3 L159.0 321.9 L159.3 320.0 L159.6 317.4 L159.9 321.0 L160.2 317.9 L160.5 317.8 L160.8 315.8 L161.1 322.6 L161.4 319.9 L161.7 317.7 L162.0 317.5 L162.3 317.4 L162.6 318.6 L162.9 314.2 L163.2 314.4 L163.5 319.3 L163.8 322.9 L164.0 318.4 L164.3 320.2 L164.6 319.1 L164.9 314.1 L165.2 318.1 L165.5 318.0 L165.8 324.0 L166.1 323.6 L166.4 324.4 L166.7 321.2 L167.0 325.1 L167.3 321.1 L167.6 326.3 L167.9 331.9 L168.2 327.1 L168.5 331.8 L168.8 335.6 L169.1 332.9 L169.3 336.3 L169.6 335.1 L169.9 333.6 L170.2 329.4 L170.5 330.6 L170.8 330.2 L171.0 341.2 L171.3 339.4 L171.6 337.8 L171.9 334.2 L172.2 341.8 L172.5 335.2 L172.8 339.6 L173.1 339.3 L173.4 335.6 L173.7 331.6 L174.0 331.2 L174.3 326.7 L174.6 330.0 L174.9 333.4 L175.2 331.6 L175.5 332.4 L175.8 328.2 L176.1 329.9 L176.3 327.1 L176.6 328.2 L176.9 332.2 L177.2 339.0 L177.5 335.0 L177.8 333.8 L178.1 328.4 L178.4 332.7 L178.7 331.5 L179.0 330.1 L179.3 329.8 L179.6 334.6 L179.9 335.2 L180.2 338.8 L180.5 337.9 L180.8 338.6 L181.1 343.4 L181.4 343.4 L181.7 343.5 L182.0 345.8 L182.3 343.4 L182.6 339.3 L182.9 338.7 L183.2 336.6 L183.5 341.6 L183.8 341.4 L184.1 344.2 L184.4 347.1 L184.7 344.3 L185.0 346.9 L185.3 351.6 L185.6 350.7 L185.9 353.5 L186.2 352.1 L186.5 350.3 L186.8 352.4 L187.1 349.3 L187.3 354.8 L187.6 353.1 L187.9 357.6 L188.2 351.7 L188.5 353.3 L188.8 354.3 L189.0 352.9 L189.3 353.8 L189.6 350.6 L189.9 348.3 L190.2 346.3 L190.5 347.7 L190.8 347.3 L191.1 349.8 L191.4 348.8 L191.7 347.3 L192.0 346.3 L192.3 342.6 L192.6 345.5 L192.9 348.6 L193.2 344.6 L193.5 346.2 L193.8 349.2 L194.1 346.3 L194.4 347.6 L194.7 346.2 L195.0 353.8 L195.3 353.9 L195.6 353.6 L195.9 348.4 L196.2 350.7 L196.5 349.4 L196.8 350.7 L197.1 348.7 L197.4 350.4 L197.7 348.6 L198.0 351.3 L198.3 356.4 L198.6 349.4 L198.9 347.3 L199.2 351.8 L199.5 354.4 L199.8 352.1 L200.1 354.2 L200.4 354.5 L200.7 355.2 L201.0 357.9 L201.2 352.1 L201.5 353.2 L201.8 351.7 L202.1 348.1 L202.4 349.6 L202.7 344.4 L203.0 341.5 L203.3 347.2 L203.6 342.4 L203.9 348.1 L204.2 348.1 L204.5 343.3 L204.8 340.2 L205.1 335.0 L205.4 339.0 L205.7 335.6 L206.0 343.3 L206.3 336.3 L206.6 338.6 L206.9 331.1 L207.2 335.0 L207.5 340.9 L207.8 337.7 L208.1 335.2 L208.4 335.0 L208.7 337.2 L209.0 339.1 L209.3 336.3 L209.6 329.9 L209.9 334.2 L210.2 338.1 L210.5 343.5 L210.8 339.6 L211.1 338.5 L211.4 336.3 L211.7 339.5 L212.0 343.8 L212.3 337.6 L212.6 338.8 L212.9 336.3 L213.2 336.1 L213.5 337.5 L213.8 339.8 L214.0 336.8 L214.3 337.2 L214.6 342.0 L214.9 341.2 L215.2 341.4 L215.5 340.5 L215.8 338.5 L216.1 340.0 L216.4 341.2 L216.7 340.4 L217.0 343.4 L217.3 341.9 L217.6 344.2 L217.9 342.8 L218.2 344.7 L218.5 341.7 L218.8 341.2 L219.1 339.4 L219.4 345.7 L219.7 346.0 L220.0 345.4 L220.3 346.5 L220.6 342.8 L220.9 344.3 L221.2 343.3 L221.5 339.1 L221.8 342.4 L222.1 341.3 L222.4 347.3 L222.7 342.9 L223.0 341.4 L223.3 345.3 L223.6 343.5 L223.9 338.8 L224.2 341.4 L224.5 339.3 L224.8 345.3 L225.0 338.5 L225.3 336.3 L225.6 329.0 L225.9 331.7 L226.2 339.2 L226.5 335.4 L226.7 330.9 L227.0 331.9 L227.3 329.6 L227.6 328.6 L227.9 334.7 L228.2 334.5 L228.4 332.3 L228.7 330.8 L229.0 322.5 L229.3 316.2 L229.6 321.2 L229.9 321.4 L230.2 320.0 L230.5 318.5 L230.8 319.8 L231.1 319.4 L231.4 317.8 L231.7 317.4 L232.0 316.8 L232.3 317.0 L232.6 323.0 L232.9 321.2 L233.2 327.8 L233.5 327.1 L233.8 326.0 L234.1 329.6 L234.4 327.0 L234.7 327.8 L235.0 324.1 L235.3 321.7 L235.5 320.9 L235.8 322.6 L236.1 316.7 L236.4 308.0 L236.7 303.7 L237.0 297.3 L237.3 302.7 L237.6 304.6 L237.9 303.2 L238.2 302.3 L238.5 301.9 L238.8 301.1 L239.1 300.9 L239.4 299.1 L239.7 296.4 L239.9 301.7 L240.2 305.4 L240.5 298.9 L240.8 301.4 L241.1 300.3 L241.4 305.4 L241.7 305.6 L241.9 311.3 L242.2 313.9 L242.5 311.5 L242.8 311.8 L243.1 312.8 L243.4 317.6 L243.6 316.2 L243.9 320.9 L244.2 316.2 L244.5 321.4 L244.8 321.4 L245.1 316.4 L245.4 315.6 L245.6 317.7 L245.9 318.7 L246.2 309.7 L246.5 315.2 L246.8 319.0 L247.1 313.4 L247.4 307.6 L247.6 311.6 L247.9 309.0 L248.2 306.6 L248.5 305.7 L248.8 300.0 L249.1 299.2 L249.4 297.1 L249.7 295.8 L250.0 297.2 L250.3 295.1 L250.6 301.6 L250.9 300.2 L251.2 300.2 L251.5 292.6 L251.8 293.6 L252.1 293.7 L252.4 294.2 L252.7 294.7 L253.0 290.9 L253.3 288.8 L253.6 292.9 L253.8 297.7 L254.1 301.2 L254.4 297.0 L254.7 295.5 L255.0 299.2 L255.3 302.6 L255.5 309.0 L255.8 306.8 L256.1 304.7 L256.4 309.6 L256.7 306.8 L257.0 306.0 L257.3 310.3 L257.5 310.3 L257.8 308.3 L258.1 308.5 L258.4 307.4 L258.7 306.8 L259.0 304.4 L259.2 306.6 L259.5 303.9 L259.8 301.6 L260.1 305.5 L260.4 300.9 L260.7 303.9 L261.0 304.2 L261.3 301.5 L261.6 301.8 L261.9 296.7 L262.2 299.7 L262.5 296.8 L262.8 296.0 L263.1 298.8 L263.3 296.7 L263.6 298.3 L263.9 299.5 L264.2 301.5 L264.5 300.2 L264.8 301.4 L265.1 297.9 L265.4 298.5 L265.7 302.3 L266.0 305.9 L266.2 305.8 L266.5 303.7 L266.8 302.1 L267.1 302.7 L267.4 308.7 L267.7 305.0 L268.0 306.1 L268.3 309.2 L268.6 309.9 L268.9 307.1 L269.1 314.0 L269.4 311.4 L269.7 311.1 L270.0 312.7 L270.3 310.2 L270.6 312.4 L270.9 311.0 L271.2 308.6 L271.5 307.7 L271.8 311.4 L272.1 312.1 L272.4 311.8 L272.7 311.1 L273.0 311.6 L273.3 314.9 L273.5 317.1 L273.8 314.2 L274.1 314.8 L274.4 309.2 L274.7 309.5 L275.0 310.4 L275.3 310.0 L275.6 314.2 L275.9 307.6 L276.2 312.4 L276.5 314.4 L276.8 319.3 L277.1 313.1 L277.4 313.4 L277.7 316.3 L278.0 315.4 L278.3 309.6 L278.6 308.9 L278.8 306.2 L279.1 308.4 L279.4 310.7 L279.7 313.1 L280.0 311.4 L280.3 311.6 L280.6 311.8 L280.9 306.0 L281.2 307.8 L281.5 308.9 L281.8 305.5 L282.1 301.7 L282.4 303.1 L282.6 303.2 L282.9 304.3 L283.2 297.2 L283.5 300.0 L283.8 308.4 L284.1 309.9 L284.4 307.0 L284.7 306.2 L285.0 306.7 L285.3 305.5 L285.6 307.2 L285.9 309.9 L286.2 308.3 L286.4 311.8 L286.7 314.8 L287.0 312.3 L287.3 314.7 L287.6 313.2 L287.9 317.4 L288.1 319.9 L288.4 319.1 L288.7 321.0 L289.0 323.4 L289.3 325.1 L289.6 320.5 L289.8 322.3 L290.1 320.4 L290.4 319.0 L290.7 327.2 L291.0 330.0 L291.3 332.9 L291.5 333.1 L291.8 329.8 L292.1 331.1 L292.4 329.8 L292.7 335.1 L293.0 326.9 L293.3 332.1 L293.6 331.7 L293.9 335.5 L294.2 338.6 L294.5 334.9 L294.8 340.0 L295.1 341.7 L295.4 335.4 L295.7 343.4 L296.0 338.4 L296.3 336.8 L296.6 343.4 L296.9 341.6 L297.2 344.6 L297.5 345.8 L297.8 344.3 L298.1 352.0 L298.3 355.3 L298.6 353.3 L298.9 357.7 L299.2 355.6 L299.5 356.5 L299.8 354.5 L300.1 350.7 L300.4 351.9 L300.7 350.4 L301.0 353.6 L301.3 353.7 L301.6 351.5 L301.9 355.8 L302.2 354.5 L302.5 358.0 L302.8 352.8 L303.1 350.7 L303.5 348.8 L303.8 351.2 L304.0 351.1 L304.3 351.7 L304.6 356.9 L304.9 356.2 L305.2 352.0 L305.5 353.6 L305.8 352.4 L306.1 352.0 L306.4 352.2 L306.7 351.8 L307.0 352.5 L307.3 352.9 L307.6 349.5 L307.9 345.2 L308.2 345.1 L308.5 343.7 L308.8 342.2 L309.1 338.6 L309.4 339.8 L309.7 334.9 L310.0 341.3 L310.2 341.5 L310.5 341.0 L310.8 335.5 L311.1 336.3 L311.4 339.0 L311.7 335.1 L312.0 330.8 L312.2 331.5 L312.5 325.1 L312.8 331.3 L313.1 331.5 L313.4 326.0 L313.7 330.5 L314.0 333.7 L314.3 333.6 L314.6 333.9 L314.9 336.7 L315.2 334.3 L315.5 337.0 L315.8 333.7 L316.1 331.4 L316.3 331.9 L316.6 330.7 L316.9 334.8 L317.2 333.7 L317.5 336.8 L317.8 338.3 L318.1 343.0 L318.4 345.6 L318.7 340.5 L319.0 340.3 L319.3 340.7 L319.6 337.6 L319.9 342.3 L320.2 341.2 L320.5 335.6 L320.7 329.3 L321.0 328.1 L321.3 328.4 L321.6 333.2 L321.9 326.6 L322.2 331.8 L322.5 325.3 L322.8 327.9 L323.1 324.3 L323.4 324.9 L323.7 319.4 L324.0 325.7 L324.3 326.1 L324.6 323.5 L324.9 319.6 L325.2 324.1 L325.5 325.9 L325.8 322.6 L326.1 326.9 L326.4 326.8 L326.7 324.0 L327.0 325.3 L327.2 321.9 L327.5 330.5 L327.8 335.1 L328.1 334.3 L328.4 331.9 L328.7 332.2 L329.0 335.5 L329.2 335.9 L329.6 341.1 L329.9 341.1 L330.2 347.5 L330.5 351.2 L330.8 348.4 L331.1 347.8 L331.4 342.4 L331.7 349.9 L331.9 354.4 L332.2 353.2 L332.5 358.9 L332.8 356.4 L333.1 354.7 L333.4 360.2 L333.6 361.7 L333.9 355.7 L334.2 358.0 L334.5 358.4 L334.8 362.6 L335.1 366.3 L335.4 366.8 L335.7 369.8 L336.0 373.9 L336.3 373.0 L336.6 371.1 L336.9 369.1 L337.2 372.5 L337.4 375.1 L337.7 369.7 L338.0 368.4 L338.3 363.6 L338.6 361.5 L338.9 365.1 L339.1 361.8 L339.4 362.3 L339.7 361.9 L340.0 364.3 L340.3 362.2 L340.6 360.3 L340.9 357.9 L341.2 355.7 L341.5 358.5 L341.8 361.8 L342.1 351.8 L342.4 357.1 L342.7 354.1 L343.0 354.8 L343.3 356.6 L343.6 357.6 L343.8 358.9 L344.1 359.5 L344.4 368.0 L344.7 363.1 L345.0 365.0 L345.3 366.6 L345.5 371.1 L345.8 369.8 L346.1 374.3 L346.4 376.6 L346.7 383.3 L347.0 382.8 L347.2 381.3 L347.5 382.0 L347.8 387.9 L348.1 385.2 L348.4 382.9 L348.7 382.8 L348.9 383.9 L349.2 388.3 L349.5 385.0 L349.8 385.5 L350.1 387.6 L350.4 386.3 L350.7 390.6 L351.0 389.6 L351.3 392.1 L351.6 393.5 L351.9 397.1 L352.2 399.4 L352.5 393.4 L352.8 387.0 L353.1 383.4 L353.4 384.9 L353.7 383.8 L354.0 380.1 L354.4 378.3 L354.7 381.1 L355.0 379.4 L355.3 376.1 L355.6 375.1 L355.9 371.5 L356.2 379.1 L356.5 385.6 L356.8 383.9 L357.1 383.1 L357.3 388.8 L357.6 387.4 L357.9 389.3 L358.2 392.5 L358.5 392.5 L358.8 395.9 L359.0 390.7 L359.3 388.5 L359.6 397.6 L359.9 397.8 L360.2 395.9 L360.5 392.3 L360.7 391.0 L361.0 390.5 L361.3 384.7 L361.6 385.4 L361.9 381.6 L362.2 387.3 L362.4 383.3 L362.7 380.6 L363.0 380.6 L363.3 379.3 L363.6 377.7 L363.9 371.3 L364.1 370.0 L364.4 370.3 L364.7 367.3 L365.0 364.7 L365.3 360.5 L365.6 359.9 L365.8 363.0 L366.1 356.4 L366.4 353.2 L366.7 352.1 L367.0 350.2 L367.3 357.0 L367.5 360.6 L367.8 359.6 L368.1 358.9 L368.4 363.1 L368.7 364.5 L369.0 356.5 L369.2 360.7 L369.5 370.0 L369.8 365.7 L370.1 363.8 L370.4 363.9 L370.6 370.6 L370.9 367.8 L371.2 367.6 L371.5 368.7 L371.8 365.4 L372.0 362.8 L372.3 358.1 L372.6 354.9 L372.9 359.4 L373.2 353.9 L373.5 358.1 L373.7 359.5 L374.0 360.1 L374.3 355.1 L374.6 350.9 L374.9 351.6 L375.2 354.7 L375.4 353.2 L375.7 352.1 L376.0 349.6 L376.3 351.1 L376.6 343.2 L376.9 342.1 L377.1 349.2 L377.4 348.4 L377.7 348.4 L378.0 340.9 L378.3 341.0 L378.6 341.9 L378.8 342.8 L379.1 347.7 L379.4 345.1 L379.7 346.7 L380.0 345.4 L380.3 346.9 L380.5 349.7 L380.8 351.3 L381.1 354.6 L381.4 350.4 L381.7 355.5 L382.0 357.3 L382.3 355.4 L382.5 361.5 L382.8 359.1 L383.1 358.3 L383.4 360.4 L383.7 363.5 L384.0 359.3 L384.3 363.0 L384.5 361.1 L384.8 357.1 L385.1 359.7 L385.4 358.6 L385.7 357.8 L386.0 360.3 L386.2 366.1 L386.5 366.7 L386.8 366.4 L387.1 370.3 L387.4 366.7 L387.7 374.5 L387.9 381.7 L388.2 379.9 L388.5 382.0 L388.8 385.9 L389.0 393.7 L389.3 398.8 L389.6 406.5 L389.9 410.3 L390.2 419.1 L390.2 441.5 L390.5 455.6 L390.7 466.7 L391.0 483.4 L391.3 493.7 L391.7 510.2 L392.0 527.9 L392.3 532.3 L392.6 529.2 L392.9 512.6 L393.1 497.7 L393.3 513.4 L393.6 527.0 L393.9 510.5 L394.2 501.4 L394.5 507.0 L394.8 512.6 L395.2 501.2 L395.5 488.3 L395.8 487.1 L396.1 482.1 L396.3 485.5 L396.6 484.9 L396.9 481.5 L397.2 486.3 L397.5 482.3 L397.8 478.5 L398.1 479.9 L398.4 479.3 L398.7 479.1 L399.0 476.7 L399.2 477.8 L399.5 476.1 L399.8 478.1 L400.1 476.0 L400.4 471.7 L400.7 469.3 L401.0 472.5 L401.3 474.2 L401.6 467.8 L401.8 470.9 L402.2 469.1 L402.5 468.5 L402.8 464.5 L403.1 461.4 L403.4 461.0 L403.7 459.7 L404.0 459.6 L404.3 460.4 L404.6 459.8 L404.9 464.1 L405.2 457.1 L405.5 455.4 L405.8 455.6 L406.0 456.4 L406.3 451.5 L406.6 448.0 L406.9 450.7 L407.2 451.2 L407.5 451.2 L407.8 450.6 L408.1 443.6 L408.4 447.6 L408.7 445.0 L408.9 449.4 L409.2 443.3 L409.5 435.6 L409.8 437.8 L409.9 436.2 L410.2 435.4 L410.5 433.5 L410.8 429.6 L411.1 423.8 L411.4 424.7 L411.7 423.0 L412.0 420.1 L412.4 419.6 L412.7 416.9 L413.0 409.8 L413.3 409.8 L413.6 408.7 L413.9 408.9 L414.3 413.2 L414.6 409.0 L414.9 407.8 L415.2 398.9 L415.5 403.6 L415.9 399.2 L416.2 399.4 L416.5 394.4 L416.8 394.7 L417.1 396.3 L417.5 393.7 L417.8 392.7 L418.1 387.8 L418.4 384.8 L418.7 385.0 L419.0 382.4 L419.4 380.9 L419.7 376.1 L420.0 373.4 L420.3 373.7 L420.6 373.8 L420.9 368.8 L421.2 365.8 L421.5 366.1 L421.8 367.8 L422.1 366.0 L422.4 366.9 L422.7 363.0 L423.0 358.5 L423.3 353.5 L423.6 358.3 L423.9 357.4 L424.2 353.7 L424.5 354.3 L424.8 349.4 L425.1 353.1 L425.4 353.7 L425.7 353.6 L426.0 348.5 L426.3 351.1 L426.5 349.7 L426.8 353.0 L427.2 345.9 L427.5 351.5 L427.8 355.4 L428.1 353.2 L428.4 356.7 L428.7 356.2 L429.0 360.3 L429.3 357.8 L429.6 358.3 L429.9 355.8 L430.2 364.5 L430.5 360.3 L430.8 358.6 L431.1 359.0 L431.4 362.3 L431.7 364.0 L432.0 366.1 L432.3 370.5 L432.6 371.0 L432.9 363.3 L433.2 364.6 L433.5 363.5 L433.9 365.2 L434.2 363.5 L434.5 365.8 L434.8 362.7 L435.1 365.7 L435.4 358.0 L435.7 360.3 L436.0 359.7 L436.3 354.1 L436.6 349.7 L436.9 349.3 L437.2 351.2 L437.5 354.7 L437.7 346.6 L438.0 346.3 L438.3 342.7 L438.6 349.2 L438.9 350.8 L439.2 352.2 L439.4 355.7 L439.7 356.9 L440.0 358.2 L440.3 352.8 L440.6 349.0 L441.0 348.2 L441.3 346.7 L441.6 348.8 L441.8 346.4 L442.1 345.8 L442.4 345.8 L442.7 346.2 L443.0 343.6 L443.3 349.1 L443.6 350.1 L443.9 348.5 L444.2 344.3 L444.5 346.4 L444.8 345.5 L445.1 342.9 L445.4 342.0 L445.7 338.5 L446.0 337.6 L446.2 336.5 L446.5 330.2 L446.8 328.9 L447.1 327.2 L447.4 328.9 L447.7 320.5 L448.0 324.6 L448.3 324.5 L448.6 323.2 L448.9 323.5 L449.2 318.2 L449.5 320.7 L449.8 318.5 L450.1 317.7 L450.5 322.5 L450.8 319.1 L451.1 321.4 L451.3 317.4 L451.6 313.9 L451.9 311.2 L452.2 306.0 L452.5 306.0 L452.8 306.3 L453.0 308.8 L453.3 306.7 L453.6 305.1 L453.9 298.6 L454.2 296.5 L454.5 298.1 L454.8 298.4 L455.1 293.5 L455.4 296.9 L455.7 292.9 L456.0 293.3 L456.1 296.1 L456.1 289.0 L456.4 288.7 L456.7 287.9 L457.0 281.3 L457.3 280.8 L457.6 285.3 L457.9 279.6 L458.1 278.1 L458.4 275.7 L458.7 272.2 L459.0 276.2 L459.3 276.2 L459.6 269.1 L459.8 269.0 L460.1 272.6 L460.4 269.6 L460.7 267.1 L461.0 268.3 L461.3 268.0 L461.6 261.8 L461.9 260.4 L462.2 266.1 L462.5 261.8 L462.8 261.3 L463.1 258.6 L463.4 263.9 L463.7 256.4 L464.0 256.9 L464.2 254.8 L464.5 253.6 L464.8 249.9 L465.1 248.4 L465.4 248.4 L465.7 248.5 L466.0 241.6 L466.3 243.4 L466.6 240.3 L466.9 240.3 L467.2 238.1 L467.5 239.2 L467.8 239.4 L468.0 241.7 L468.3 241.4 L468.6 236.8 L468.9 233.5 L469.2 235.2 L469.5 240.8 L469.8 237.5 L470.1 237.9 L470.4 245.9 L470.7 242.5 L471.0 241.7 L471.2 242.8 L471.5 244.0 L471.8 241.1 L472.1 241.7 L472.4 236.6 L472.7 241.7 L473.0 244.6 L473.3 239.5 L473.6 245.4 L473.9 250.6 L474.1 240.4 L474.4 243.7 L474.7 249.7 L475.0 247.8 L475.3 242.0 L475.6 239.1 L475.9 237.5 L476.1 238.7 L476.4 233.6 L476.7 229.0 L477.0 231.3 L477.3 228.8 L477.6 234.1 L477.8 227.6 L478.1 228.3 L478.4 226.4 L478.7 221.5 L479.0 222.7 L479.3 218.9 L479.5 224.1 L479.8 222.1 L480.1 220.5 L480.4 218.9 L480.7 226.6 L481.0 228.7 L481.2 226.4 L481.5 229.1 L481.8 233.4 L482.1 236.0 L482.4 236.6 L482.7 232.1 L482.9 242.4 L483.2 242.2 L483.5 247.7 L483.8 243.5 L484.1 249.0 L484.4 253.8 L484.6 256.3 L484.9 250.2 L485.2 251.0 L485.5 256.6 L485.8 252.2 L486.1 255.1 L486.4 254.0 L486.7 250.2 L487.0 255.9 L487.3 258.6 L487.6 258.5 L487.9 256.3 L488.2 257.0 L488.5 248.2 L488.8 249.9 L489.1 254.8 L489.4 252.4 L489.7 252.6 L490.0 248.3 L490.3 247.8 L490.6 242.8 L490.9 246.7 L491.2 247.7 L491.4 246.6 L491.7 247.6 L492.0 248.6 L492.3 249.7 L492.6 252.0 L492.9 251.8 L493.1 242.0 L493.4 244.4 L493.7 246.7 L494.0 240.3 L494.3 239.8 L494.6 245.9 L494.9 241.1 L495.2 244.6 L495.5 244.4 L495.8 240.2 L496.1 242.7 L496.3 239.9 L496.6 243.6 L496.9 249.1 L497.2 250.9 L497.5 251.3 L497.8 248.0 L498.1 249.7 L498.4 251.4 L498.7 250.3 L499.0 250.1 L499.2 248.0 L499.5 246.9 L499.8 243.6 L500.1 249.7 L500.4 245.1 L500.7 244.4 L501.0 245.1 L501.3 245.7 L501.6 252.2 L501.9 250.6 L502.2 250.3 L502.5 250.6 L502.8 250.1 L503.1 252.9 L503.4 253.7 L503.6 247.8 L503.9 251.0 L504.2 248.3 L504.5 245.8 L504.8 248.5 L505.1 246.4 L505.4 246.4 L505.7 246.3 L506.0 242.8 L506.3 241.6 L506.6 242.2 L506.9 242.9 L507.2 244.2 L507.5 245.1 L507.7 247.8 L508.0 244.5 L508.3 244.1 L508.6 241.5 L508.9 236.0 L509.2 234.3 L509.4 229.1 L509.7 225.3 L510.0 228.6 L510.3 227.2 L510.6 225.8 L510.9 226.5 L511.1 219.0 L511.4 218.4 L511.8 213.0 L512.2 203.7 L512.5 197.3 L512.8 191.5 L513.1 189.0 L513.4 190.0 L513.7 194.8 L514.0 196.4 L514.3 195.5 L514.7 198.6 L515.0 199.5 L515.3 199.6 L515.6 200.5 L515.9 197.6 L516.2 191.6 L516.5 188.5 L516.8 180.3 L517.1 179.4 L517.4 173.1 L517.7 173.0 L518.0 175.0 L518.3 171.7 L518.6 179.8 L519.0 178.0 L519.3 178.2 L519.6 179.4 L520.0 186.3 L520.3 190.4 L520.6 191.4 L520.9 192.9 L521.2 197.1 L521.5 197.1 L521.8 199.1 L522.1 199.9 L522.4 204.7 L522.8 198.5 L523.1 209.5 L523.4 207.1 L523.7 207.9 L524.0 205.2 L524.3 211.5 L524.6 210.6 L524.9 210.1 L525.2 208.7 L525.6 212.9 L525.9 210.7 L526.2 204.8 L526.5 207.0 L526.8 198.7 L527.1 200.9 L527.4 197.5 L527.7 194.3 L528.1 197.3 L528.4 201.5 L528.7 201.4 L529.0 203.9 L529.3 205.3 L529.6 208.3 L529.9 207.5 L530.2 215.2 L530.5 214.8 L530.9 219.1 L531.2 217.1 L531.5 218.8 L531.8 217.3 L531.8 213.1 L532.3 207.8 L532.5 205.6 L532.8 201.5 L533.1 200.2 L533.4 202.6 L533.7 200.9 L534.0 206.1 L534.2 202.5 L534.5 198.4 L534.8 197.2 L535.1 197.7 L535.4 187.4 L535.6 184.4 L536.0 183.5 L536.3 179.1 L536.6 182.0 L536.9 182.8 L537.2 185.1 L537.5 183.1 L537.8 180.7 L538.1 178.1 L538.4 172.6 L538.7 178.2 L539.0 174.6 L539.3 166.7 L539.6 160.6 L539.9 160.7 L540.2 160.5 L540.5 156.9 L540.8 154.5 L541.1 152.3 L541.4 148.0 L541.7 140.9 L542.0 137.6 L542.3 131.0 L542.6 134.2 L542.9 129.4 L543.2 127.7 L543.5 132.0 L543.7 124.4 L544.0 122.9 L544.3 119.1 L544.6 113.9 L544.9 122.0 L545.2 122.9 L545.5 124.3 L545.8 128.2 L546.2 127.8 L546.4 132.2 L546.7 137.0 L547.0 134.9 L547.3 138.9 L547.6 141.2 L547.9 146.2 L548.1 153.5 L548.4 145.3 L548.7 149.4 L549.0 146.8 L549.3 147.2 L549.6 146.5 L549.9 144.7 L550.2 140.8 L550.5 142.8 L550.8 140.9 L551.1 146.6 L551.4 146.7 L551.7 144.5 L552.0 144.8 L552.2 149.6 L552.5 144.8 L552.8 148.1 L553.1 149.7 L553.4 152.4 L553.7 162.1 L554.0 164.9 L554.3 173.4 L554.6 177.4 L554.9 179.9 L555.2 181.4 L555.5 185.7 L555.8 182.6 L556.1 182.4 L556.4 185.1 L556.7 188.5 L557.0 194.1 L557.4 194.8 L557.7 197.4 L558.0 204.4 L558.3 200.2 L558.6 197.1 L558.9 187.9 L559.2 184.5 L559.5 180.8 L559.8 185.3 L560.1 175.2 L560.4 173.2 L560.7 172.0 L561.1 173.2 L561.4 179.9 L561.7 184.1 L562.0 186.6 L562.3 193.4 L562.7 203.8 L563.0 207.3 L563.3 212.4 L563.6 215.4 L563.9 214.7 L564.2 214.7 L564.3 205.7 L564.6 211.0 L565.0 223.6 L565.3 227.1 L565.6 229.9 L565.9 229.4 L566.1 232.1 L566.4 232.1 L566.7 238.8 L567.0 240.3 L567.3 233.2 L567.6 233.9 L567.8 238.4 L568.1 232.9 L568.4 230.1 L568.7 228.8 L569.0 228.7 L569.3 229.5 L569.5 228.1 L569.8 227.6 L570.1 224.5 L570.4 225.8 L570.7 227.5 L571.0 220.8 L571.2 223.1 L571.5 224.5 L571.8 225.1 L572.1 225.4 L572.4 227.4 L572.7 226.8 L572.9 225.9 L573.2 224.4 L573.5 227.7 L573.8 225.0 L574.1 220.2 L574.4 221.7 L574.6 221.8 L574.9 225.2 L575.2 229.3 L575.5 226.5 L575.8 233.3 L576.1 234.7 L576.3 240.0 L576.6 237.7 L576.9 241.5 L577.2 243.7 L577.5 247.7 L577.8 242.2 L578.0 244.7 L578.3 246.9 L578.6 247.6 L578.9 247.0 L579.2 250.0 L579.5 253.2 L579.8 260.7 L580.1 259.5 L580.4 263.1 L580.7 261.4 L581.0 264.1 L581.3 265.6 L581.6 269.4 L581.8 269.0 L582.1 275.2 L582.4 286.9 L582.7 286.2 L583.0 284.8 L583.3 296.6 L583.5 291.3 L583.8 287.1 L584.1 278.5 L584.4 276.8 L584.7 274.3 L585.0 271.7 L585.2 266.4 L585.5 268.2 L585.8 262.1 L586.1 265.4 L586.4 262.1 L586.7 258.6 L586.9 253.0 L587.2 254.9 L587.5 254.0 L587.8 247.3 L588.1 252.0 L588.4 247.0 L588.6 240.2 L588.9 243.9 L589.2 237.5 L589.5 237.9 L589.8 237.5 L590.1 239.6 L590.3 243.0 L590.6 242.9 L590.9 247.5 L591.2 246.5 L591.5 250.4 L591.8 247.4 L592.0 252.5 L592.3 257.0 L592.6 262.0 L592.9 262.5 L593.2 265.4 L593.5 267.4 L593.7 265.5 L594.0 269.4 L594.3 270.8 L594.6 269.7 L594.9 268.2 L595.2 275.2 L595.5 277.9 L595.8 277.1 L596.1 279.2 L596.3 281.3 L596.6 277.9 L596.9 278.9 L597.2 279.5 L597.5 279.8 L597.8 278.5 L598.1 277.3 L598.4 280.6 L598.7 280.4 L599.0 284.9 L599.3 283.7 L599.6 282.8 L599.9 279.3 L600.2 281.6 L600.5 284.0 L600.8 284.2 L601.1 283.1 L601.4 274.6 L601.7 276.3 L601.9 278.8 L602.2 282.8 L602.5 275.8 L602.8 276.9 L603.1 275.7 L603.4 283.2 L603.6 284.5 L603.9 287.4 L604.2 291.2 L604.5 290.5 L604.8 291.4 L605.1 297.3 L605.3 293.9 L605.6 295.1 L605.9 297.4 L606.2 296.5 L606.5 290.6 L606.8 287.1 L607.0 286.9 L607.3 290.1 L607.6 288.7 L607.9 281.8 L608.2 277.3 L608.5 275.5 L608.7 270.0 L609.0 272.8 L609.3 271.2 L609.6 273.9 L609.9 269.1 L610.2 267.7 L610.4 262.7 L610.7 259.1 L611.0 262.1 L611.3 253.9 L611.6 250.0 L612.0 247.2 L612.3 247.6 L612.6 243.8 L612.9 239.8 L613.1 239.6 L613.4 242.9 L613.7 238.6 L614.0 235.8 L614.3 237.6 L614.6 228.0 L614.8 228.6 L615.1 224.3 L615.4 228.4 L615.7 227.9 L616.0 228.1 L616.3 235.5 L616.5 243.5 L616.8 240.3 L617.1 247.6 L617.4 262.9 L617.7 266.0 L618.1 269.8 L618.4 276.5 L618.7 277.2 L619.0 274.8 L619.3 275.8 L619.6 274.5 L619.9 270.2 L620.2 270.2 L620.5 272.0 L620.8 266.9 L621.1 267.2 L621.4 264.5 L621.7 264.4 L622.0 260.3 L622.3 262.9 L622.6 261.2 L622.9 266.8 L623.2 265.6 L623.5 272.4 L623.8 273.0 L624.1 268.9 L624.3 277.5 L624.6 277.1 L624.9 279.5 L625.2 277.6 L625.5 282.0 L625.8 283.0 L626.0 282.9 L626.3 284.7 L626.6 293.3 L626.9 292.4 L627.2 293.4 L627.5 292.1 L627.8 292.9 L628.1 293.4 L628.4 295.0 L628.7 296.4 L629.0 299.6 L629.3 297.5 L629.6 296.3 L629.9 293.7 L630.2 296.4 L630.5 296.7 L630.8 294.5 L631.1 289.4 L631.4 293.5 L631.8 290.3 L632.1 299.7 L632.4 299.8 L632.7 304.0 L633.0 302.2 L633.3 303.6 L633.5 306.0 L633.8 304.3 L634.1 298.2 L634.4 294.4 L634.7 295.4 L635.0 297.6 L635.3 294.3 L635.6 290.8 L635.9 292.8 L636.2 294.6 L636.5 290.2 L636.8 293.1 L637.1 296.5 L637.4 292.3 L637.7 294.3 L638.0 294.2 L638.3 295.0 L638.6 295.2 L638.9 291.7 L639.2 294.2 L639.5 299.0 L639.8 295.8 L640.1 289.5 L640.5 290.1 L640.8 296.0 L641.1 292.2 L641.3 291.3 L641.6 286.7 L641.9 284.0 L642.2 286.7 L642.5 288.5 L642.8 287.4 L643.0 290.4 L643.3 289.9 L643.6 285.7 L643.9 289.6 L644.2 285.4 L644.6 283.4 L644.9 275.0 L645.2 276.8 L645.5 277.4 L645.8 277.7 L646.1 276.9 L646.4 280.3 L646.7 280.4 L647.0 275.2 L647.3 272.8 L647.7 274.1 L648.0 270.4 L648.3 273.3 L648.6 276.0 L648.9 274.5 L649.1 275.5 L649.4 275.5 L649.7 278.5 L650.0 281.3 L650.3 279.0 L650.6 284.5 L650.9 282.1 L651.2 285.1 L651.5 287.6 L651.8 285.9 L652.1 288.1 L652.4 287.7 L652.7 290.5 L653.0 286.9 L653.2 280.4 L653.5 282.9 L653.8 279.1 L654.1 284.0 L654.4 279.7 L654.7 279.8 L655.0 274.4 L655.3 274.4 L655.6 274.2 L655.9 276.4 L656.2 279.9 L656.5 278.4 L656.8 278.0 L657.1 276.4 L657.4 277.3 L657.7 280.5 L658.0 286.1 L658.3 291.3 L658.6 288.7 L658.9 287.7 L659.2 287.8 L659.5 294.0 L659.8 294.5 L660.1 291.0 L660.3 290.9 L660.6 284.8 L660.9 279.7 L661.3 267.8 L661.6 251.4 L661.9 250.1 L662.3 246.9 L662.6 240.4 L662.9 246.8 L663.2 252.1 L663.5 257.6 L663.7 257.0 L664.1 263.8 L664.4 263.5 L664.7 269.2 L665.0 267.0 L665.3 269.0 L665.6 267.4 L665.9 276.4 L666.1 274.5 L666.4 279.0 L666.7 278.2 L667.0 279.8 L667.3 282.6 L667.6 279.2 L667.8 283.4 L668.1 283.6 L668.4 282.9 L668.7 289.2 L669.0 288.8 L669.3 293.4 L669.6 292.6 L669.9 291.8 L670.2 291.7 L670.5 294.1 L670.8 294.0 L671.1 299.4 L671.4 298.1 L671.7 304.1 L672.0 302.4 L672.2 303.6 L672.5 300.6 L672.8 306.9 L673.1 296.2 L673.4 299.6 L673.7 300.8 L673.9 300.9 L674.2 302.2 L674.5 301.3 L674.8 291.7 L675.1 292.7 L675.4 290.8 L675.7 292.5 L676.0 293.4 L676.3 297.5 L676.6 298.7 L676.9 297.0 L677.2 292.9 L677.5 293.9 L677.8 292.7 L678.0 290.1 L678.3 292.1 L678.6 293.3 L678.9 287.3 L679.2 290.5 L679.5 284.4 L679.8 283.4 L680.0 279.5 L680.3 282.8 L680.6 287.2 L680.9 279.9 L681.2 278.3 L681.5 276.0 L681.7 277.8 L682.0 283.1 L682.3 279.0 L682.7 284.8 L683.0 291.2 L683.3 288.3 L683.6 289.1 L683.9 288.5 L684.1 279.9 L684.4 278.6 L684.7 280.7 L685.0 278.7 L685.3 279.4 L685.6 273.9 L685.8 273.4 L686.1 270.6 L686.4 267.6 L686.7 271.0 L687.0 274.3 L687.3 267.5 L687.5 267.9 L687.8 268.0 L688.1 270.1 L688.4 265.0 L688.7 260.6 L689.0 264.4 L689.2 262.0 L689.5 259.3 L689.9 260.6 L690.2 261.4 L690.5 261.9 L690.8 260.6 L691.1 254.6 L691.4 251.8 L691.7 258.7 L692.0 263.9 L692.3 263.6 L692.6 259.4 L692.9 263.8 L693.2 260.4 L693.5 265.7 L693.8 263.9 L694.1 264.2 L694.4 259.1 L694.7 260.8 L695.0 253.6 L695.3 259.7 L695.6 254.3 L695.9 255.0 L696.2 257.3 L696.5 257.5 L696.8 254.8 L697.1 248.5 L697.4 253.6 L697.7 250.1 L698.1 245.7 L698.4 251.9 L698.7 256.9 L699.0 249.9 L699.3 251.2 L699.6 250.9 L699.9 251.1 L700.3 252.9 L700.6 253.7 L700.9 247.9 L701.2 250.2 L701.4 252.5 L701.7 252.9 L702.0 256.5 L702.3 258.3 L702.6 262.0 L702.9 268.5 L703.1 263.4 L703.4 266.8 L703.7 270.9 L704.0 267.7 L704.3 262.5 L704.6 265.5 L704.9 270.5 L705.2 270.9 L705.5 265.7 L705.8 268.9 L706.1 269.0 L706.4 268.3 L706.7 272.0 L707.0 264.1 L707.2 272.8 L707.5 277.1 L707.8 272.6 L708.1 270.3 L708.4 268.8 L708.7 274.1 L709.0 273.9 L709.3 270.4 L709.6 269.7 L709.9 277.4 L710.2 283.8 L710.5 281.6 L710.8 290.4 L711.1 289.9 L711.3 293.4 L711.6 293.3 L711.9 296.6 L712.2 293.3 L712.5 291.7 L712.8 291.3 L713.2 287.2 L713.5 290.8 L713.7 287.9 L714.0 283.1 L714.3 278.8 L714.6 280.0 L714.9 279.1 L715.2 280.0 L715.4 278.5 L715.7 285.7 L716.0 285.9 L716.3 289.3 L716.6 289.8 L716.9 288.3 L717.1 287.0 L717.4 285.3 L717.7 291.4 L718.0 291.2 L718.3 296.2 L718.6 298.9 L718.9 297.9 L719.2 297.0 L719.5 300.0 L719.8 303.6 L720.1 304.3 L720.4 309.9 L720.7 317.6 L721.0 316.1 L721.3 323.4 L721.6 321.3 L721.9 322.2 L722.2 323.2 L722.5 320.2 L722.8 320.3 L723.1 323.5 L723.4 321.6 L723.7 319.2 L724.0 316.2 L724.3 314.2 L724.6 315.3 L724.9 311.2 L725.2 308.3 L725.5 306.0 L725.8 307.3 L726.1 309.8 L726.4 310.8 L726.7 311.3 L727.0 319.1 L727.3 313.2 L727.6 315.2 L727.9 319.4 L728.2 320.5 L728.5 322.7 L728.8 321.1 L729.1 326.1 L729.3 327.2 L729.6 322.1 L729.9 322.8 L730.2 323.3 L730.5 320.2 L730.8 317.9 L731.0 311.2 L731.3 315.0 L731.6 318.2 L731.9 315.2 L732.2 314.8 L732.5 301.5 L732.7 301.7 L733.0 301.7 L733.3 302.5 L733.6 299.4 L733.9 293.3 L734.2 294.5 L734.4 289.6 L734.7 290.2 L735.0 293.2 L735.3 296.0 L735.6 292.4 L735.9 290.9 L736.1 282.1 L736.4 279.9 L736.7 283.3 L737.0 283.5 L737.3 281.4 L737.6 277.3 L737.9 274.8 L738.3 274.8 L738.5 277.0 L738.8 270.8 L739.1 260.7 L739.4 268.4 L739.7 265.0 L740.0 260.0 L740.2 263.1 L740.5 261.5 L740.8 256.7 L741.1 254.0 L741.4 256.3 L741.7 257.2 L742.0 262.5 L742.3 260.0 L742.6 259.9 L742.9 259.5 L743.2 263.6 L743.5 269.2 L743.8 257.9 L744.1 260.3 L744.4 255.7 L744.6 253.5 L744.9 263.8 L745.2 257.7 L745.5 261.2 L745.8 258.9 L746.1 264.0 L746.4 267.4 L746.7 266.4 L747.0 268.3 L747.3 267.6 L747.6 263.2 L747.9 262.5 L748.2 262.9 L748.5 261.5 L748.8 256.2 L749.1 259.7 L749.4 263.5 L749.7 265.0 L750.0 260.0 L750.3 261.4 L750.6 265.3 L750.9 261.9 L751.2 265.0 L751.4 259.7 L751.7 255.3 L752.0 254.4 L752.3 263.0 L752.7 256.5 L753.0 253.7 L753.3 254.9 L753.6 251.6 L753.9 245.0 L754.1 245.7 L754.4 249.5 L754.7 242.1 L755.0 239.2 L755.3 242.5 L755.6 245.1 L755.8 243.8 L756.1 250.7 L756.4 247.4 L756.7 243.9 L757.0 245.1 L757.3 244.8 L757.5 243.1 L757.8 240.9 L758.1 245.8 L758.4 245.1 L758.7 241.7 L759.0 238.2 L759.3 239.1 L759.6 239.1 L759.9 237.2 L760.2 232.6 L760.5 236.2 L760.8 235.3 L761.1 229.5 L761.4 232.4 L761.6 233.7 L762.0 233.6 L762.3 230.8 L762.6 230.2 L762.9 228.8 L763.2 229.2 L763.5 233.8 L763.8 233.9 L764.1 230.7 L764.3 234.9 L764.6 239.5 L764.9 243.0 L765.2 242.5 L765.5 239.3 L765.8 240.5 L766.0 241.0 L766.3 242.0 L766.6 241.4 L766.9 245.2 L767.2 247.3 L767.5 246.1 L767.7 253.1 L768.0 249.4 L768.3 250.0 L768.6 252.7 L768.9 246.4 L769.2 249.3 L769.4 245.2 L769.7 247.5 L770.0 244.6 L770.3 238.0 L770.6 235.7 L770.9 232.0 L771.1 232.7 L771.4 235.9 L771.7 241.5 L772.0 238.5 L772.3 239.9 L772.6 246.5 L772.8 249.8 L773.1 257.2 L773.4 258.2 L773.7 259.2 L774.0 263.5 L774.3 259.8 L774.5 265.1 L774.8 269.8 L775.1 272.1 L775.4 268.5 L775.7 275.1 L776.0 274.1 L776.2 274.4 L776.5 276.7 L776.8 277.1 L777.1 269.9 L777.4 269.3 L777.7 267.9 L777.9 267.2 L778.2 267.5 L778.5 267.5 L778.8 264.6 L779.1 265.4 L779.4 266.3 L779.6 263.5 L779.9 256.8 L780.2 252.6 L780.5 255.2 L780.8 256.2 L781.1 256.3 L781.4 258.4 L781.7 259.4 L782.0 264.6 L782.3 263.3 L782.6 262.3 L782.9 262.7 L783.2 266.2 L783.5 264.0 L783.8 264.8 L784.0 265.8 L784.3 264.5 L784.6 262.7 L784.9 263.8 L785.2 265.3 L785.5 266.8 L785.7 269.7 L786.0 271.6 L786.3 269.1 L786.6 265.1 L786.9 270.1 L787.2 267.5 L787.5 260.8 L787.8 263.9 L788.1 261.0 L788.4 262.6 L788.7 262.7 L789.0 264.8 L789.3 259.4 L789.6 261.6 L789.9 263.9 L790.2 256.9 L790.5 259.6 L790.8 259.0 L791.1 257.2 L791.4 259.3 L791.7 252.5 L792.0 249.9 L792.3 250.4 L792.6 250.2 L792.9 247.6 L793.3 246.5 L793.5 246.3 L793.8 248.9 L794.1 248.1 L794.4 250.8 L794.7 250.0 L795.0 249.5 L795.2 246.0 L795.5 247.1 L795.8 249.2 L796.1 247.9 L796.4 249.5 L796.7 255.4 L796.9 255.3 L797.2 255.1 L797.5 257.6 L797.8 255.5 L798.1 260.5 L798.4 263.0 L798.6 255.4 L798.9 263.4 L799.2 254.4 L799.5 256.1 L799.8 254.2 L800.1 257.3 L800.3 256.4" stroke="#e9323c" stroke-width="3.0"/>
<path d="M76.9 397.5 L77.3 403.0 L77.6 411.0 L77.9 412.2 L78.2 417.6 L78.5 418.1 L78.8 419.8 L79.1 427.0 L79.4 427.0 L79.7 428.0 L80.0 431.7 L80.3 435.5 L80.6 428.7 L81.0 424.8 L81.3 416.8 L81.6 412.5 L81.9 407.8 L82.2 408.9 L82.5 411.0 L82.8 413.5 L83.1 419.8 L83.4 424.2 L83.7 427.5 L84.0 431.7 L84.3 431.9 L84.6 431.9 L84.9 431.3 L85.1 431.0 L85.4 425.9 L85.7 423.8 L86.0 418.0 L86.3 418.3 L86.6 413.1 L86.9 411.8 L87.2 415.8 L87.5 408.0 L87.8 410.9 L88.1 409.4 L88.4 405.9 L88.7 405.1 L88.9 403.6 L89.2 402.8 L89.5 398.2 L89.8 394.3 L90.1 392.0 L90.4 389.3 L90.7 389.5 L91.0 386.8 L91.3 389.1 L91.6 382.0 L91.9 380.3 L92.2 379.0 L92.5 379.8 L92.9 391.6 L93.2 387.9 L93.5 393.7 L93.8 397.4 L94.1 404.0 L94.4 398.7 L94.8 404.9 L95.1 403.7 L95.4 405.6 L95.7 401.2 L96.0 400.5 L96.2 393.9 L96.5 391.9 L96.8 390.0 L97.1 393.0 L97.4 383.5 L97.7 388.7 L98.0 388.5 L98.3 384.5 L98.6 384.3 L98.9 381.7 L99.2 385.1 L99.5 382.3 L99.8 379.7 L100.1 378.1 L100.4 377.0 L100.7 376.0 L101.0 373.4 L101.2 378.7 L101.5 370.6 L101.8 363.1 L102.1 368.0 L102.4 369.1 L102.7 370.0 L103.0 368.3 L103.3 367.2 L103.6 367.3 L103.9 368.2 L104.2 364.5 L104.5 362.8 L104.8 367.0 L105.1 364.5 L105.4 359.4 L105.7 364.7 L106.0 362.5 L106.3 358.0 L106.6 354.5 L106.9 356.2 L107.2 353.6 L107.5 351.6 L107.8 349.8 L108.1 350.5 L108.4 354.0 L108.7 351.1 L109.0 347.1 L109.3 350.2 L109.6 352.1 L109.8 355.9 L110.1 359.3 L110.4 358.6 L110.7 359.7 L111.0 358.9 L111.2 355.6 L111.5 358.3 L111.8 360.4 L112.1 357.8 L112.4 355.5 L112.7 354.2 L112.9 354.3 L113.2 355.3 L113.5 357.6 L113.8 358.4 L114.1 360.7 L114.4 359.8 L114.6 365.0 L114.9 366.2 L115.2 364.2 L115.5 361.2 L115.8 365.9 L116.1 370.5 L116.4 368.2 L116.7 368.4 L117.0 368.6 L117.3 372.0 L117.6 369.8 L117.9 375.4 L118.2 375.8 L118.5 380.1 L118.8 380.9 L119.1 382.0 L119.4 380.8 L119.7 383.6 L120.0 386.9 L120.3 386.8 L120.6 384.1 L120.9 379.1 L121.1 378.3 L121.4 377.6 L121.7 372.9 L122.0 368.8 L122.3 366.5 L122.6 367.2 L122.9 365.5 L123.3 360.2 L123.6 360.1 L123.9 361.2 L124.1 362.5 L124.4 369.2 L124.7 372.1 L125.0 371.0 L125.3 374.1 L125.6 377.8 L125.9 375.5 L126.2 376.0 L126.4 378.0 L126.7 372.9 L127.0 376.1 L127.3 378.2 L127.6 378.3 L127.9 374.1 L128.2 376.5 L128.5 374.6 L128.8 375.1 L129.1 374.0 L129.4 371.3 L129.7 366.7 L129.9 364.1 L130.2 365.2 L130.5 360.1 L130.8 361.4 L131.1 361.4 L131.4 358.9 L131.7 363.7 L132.0 359.4 L132.3 362.2 L132.6 352.8 L132.9 348.4 L133.2 353.8 L133.5 354.4 L133.8 352.2 L134.1 351.8 L134.4 347.1 L134.7 348.2 L135.0 347.3 L135.3 348.7 L135.6 351.5 L135.9 350.3 L136.2 350.3 L136.5 347.6 L136.8 349.8 L137.0 353.4 L137.3 355.3 L137.6 361.2 L137.9 359.8 L138.2 367.3 L138.5 364.8 L138.7 369.0 L139.0 366.9 L139.3 372.5 L139.6 371.7 L139.9 372.7 L140.2 374.6 L140.5 372.7 L140.7 371.8 L141.0 369.9 L141.3 374.2 L141.6 369.8 L141.9 367.0 L142.2 365.8 L142.4 368.7 L142.7 359.5 L143.0 359.5 L143.3 357.5 L143.6 358.2 L143.9 352.1 L144.2 352.5 L144.5 354.7 L144.8 356.4 L145.1 356.2 L145.4 349.6 L145.7 349.3 L146.0 348.4 L146.3 344.7 L146.6 342.9 L146.9 347.1 L147.2 346.9 L147.5 345.6 L147.8 347.9 L148.1 343.1 L148.4 344.6 L148.7 343.9 L149.0 343.3 L149.3 344.1 L149.6 343.5 L149.9 343.3 L150.2 343.0 L150.5 346.7 L150.8 342.5 L151.1 343.9 L151.3 343.3 L151.6 341.8 L151.9 344.6 L152.2 342.2 L152.5 346.7 L152.8 344.3 L153.1 344.7 L153.4 347.4 L153.7 350.1 L154.0 351.8 L154.3 352.9 L154.6 349.6 L154.9 346.2 L155.2 348.0 L155.5 347.6 L155.8 344.0 L156.1 346.7 L156.4 345.3 L156.7 341.6 L157.0 343.1 L157.3 338.9 L157.6 338.6 L157.9 341.4 L158.2 337.7 L158.5 340.0 L158.8 337.4 L159.1 341.3 L159.3 339.1 L159.6 340.4 L159.9 336.8 L160.2 338.1 L160.5 341.5 L160.8 341.4 L161.1 335.9 L161.4 340.3 L161.7 341.7 L162.0 339.1 L162.3 342.2 L162.5 338.9 L162.8 340.8 L163.1 345.1 L163.4 347.9 L163.7 349.7 L164.0 345.5 L164.2 343.3 L164.5 349.2 L164.8 348.2 L165.1 352.2 L165.4 352.2 L165.7 359.0 L165.9 362.1 L166.2 363.9 L166.5 362.8 L166.8 362.7 L167.1 362.0 L167.4 363.6 L167.6 364.0 L167.9 364.8 L168.2 363.2 L168.5 366.0 L168.8 361.9 L169.1 361.8 L169.3 360.3 L169.6 353.3 L169.9 347.7 L170.2 351.3 L170.5 348.6 L170.8 348.2 L171.0 346.7 L171.3 346.5 L171.6 342.8 L171.9 343.5 L172.2 342.4 L172.5 345.0 L172.7 341.6 L173.0 348.9 L173.3 351.4 L173.6 348.6 L173.9 351.1 L174.2 354.8 L174.5 358.0 L174.8 358.4 L175.1 362.4 L175.4 361.4 L175.7 359.3 L176.0 360.1 L176.2 364.4 L176.5 363.4 L176.8 367.2 L177.1 369.7 L177.4 367.0 L177.7 365.7 L178.0 361.1 L178.3 358.4 L178.6 354.8 L178.8 352.1 L179.1 347.5 L179.4 348.9 L179.7 348.0 L180.0 346.8 L180.3 350.0 L180.5 351.7 L180.8 350.4 L181.1 353.8 L181.4 355.9 L181.7 358.1 L182.0 356.2 L182.2 354.7 L182.5 360.1 L182.8 362.6 L183.1 365.7 L183.4 366.5 L183.7 369.6 L184.0 367.7 L184.3 370.1 L184.6 368.0 L184.9 364.7 L185.2 368.6 L185.5 375.3 L185.8 371.0 L186.1 376.5 L186.5 375.2 L186.8 376.1 L187.1 378.2 L187.3 377.8 L187.6 374.2 L187.9 374.8 L188.2 375.0 L188.5 375.2 L188.8 370.8 L189.0 374.0 L189.3 375.7 L189.6 377.1 L189.9 368.4 L190.2 368.5 L190.5 363.4 L190.8 366.5 L191.1 367.6 L191.4 363.6 L191.7 360.8 L192.0 363.6 L192.3 364.9 L192.6 361.5 L192.9 360.9 L193.2 354.8 L193.5 356.4 L193.8 358.4 L194.1 358.5 L194.4 361.3 L194.7 355.3 L195.0 350.0 L195.3 355.4 L195.6 355.3 L195.9 357.6 L196.2 359.9 L196.5 360.8 L196.8 363.4 L197.1 364.6 L197.4 358.3 L197.7 360.2 L198.0 366.1 L198.3 362.8 L198.6 365.2 L198.9 364.0 L199.2 363.0 L199.5 367.7 L199.8 368.4 L200.1 365.9 L200.4 368.1 L200.7 364.0 L201.0 364.2 L201.2 366.9 L201.5 365.1 L201.8 361.1 L202.1 362.6 L202.4 362.1 L202.7 363.5 L203.0 362.5 L203.3 358.5 L203.6 355.9 L203.9 355.1 L204.2 354.4 L204.5 357.8 L204.8 358.8 L205.1 358.3 L205.4 355.4 L205.7 352.6 L206.0 353.9 L206.3 351.0 L206.6 351.0 L206.9 346.1 L207.2 348.0 L207.5 353.3 L207.8 349.6 L208.1 347.6 L208.4 350.2 L208.7 355.7 L209.0 357.4 L209.3 354.1 L209.6 352.9 L209.9 353.6 L210.2 350.6 L210.5 351.0 L210.8 349.6 L211.1 345.6 L211.4 345.5 L211.7 345.5 L212.0 343.3 L212.3 341.1 L212.6 344.3 L212.9 347.0 L213.2 342.0 L213.5 339.0 L213.8 339.3 L214.0 336.9 L214.3 333.9 L214.6 337.1 L214.9 331.7 L215.2 329.7 L215.5 328.3 L215.8 326.5 L216.1 327.3 L216.4 329.2 L216.7 331.5 L217.0 330.2 L217.3 328.0 L217.6 323.8 L217.9 324.9 L218.2 322.8 L218.5 323.8 L218.8 326.3 L219.1 326.4 L219.4 326.1 L219.7 325.3 L220.0 327.3 L220.3 328.9 L220.6 327.6 L220.9 328.7 L221.2 332.9 L221.5 329.0 L221.8 331.1 L222.1 328.6 L222.4 333.3 L222.7 332.0 L223.0 330.6 L223.3 329.0 L223.6 327.4 L223.9 326.1 L224.2 320.5 L224.5 322.1 L224.8 322.6 L225.1 317.1 L225.4 319.6 L225.7 319.1 L226.0 313.0 L226.2 312.4 L226.5 311.6 L226.8 310.0 L227.1 310.6 L227.4 306.0 L227.7 306.0 L228.0 307.1 L228.3 308.4 L228.6 307.1 L228.9 305.6 L229.2 307.1 L229.5 301.0 L229.8 305.5 L230.1 303.9 L230.4 300.9 L230.7 301.5 L231.0 297.7 L231.3 295.3 L231.6 298.0 L231.8 297.3 L232.1 300.0 L232.4 296.6 L232.7 293.9 L233.0 295.8 L233.3 303.8 L233.5 303.8 L233.8 303.4 L234.1 303.4 L234.4 304.3 L234.7 307.9 L235.0 313.9 L235.3 320.3 L235.7 325.1 L236.0 321.6 L236.2 317.1 L236.5 313.9 L236.8 308.3 L237.1 308.2 L237.4 310.4 L237.7 308.3 L238.0 308.0 L238.3 306.1 L238.5 311.7 L238.8 313.3 L239.1 314.2 L239.4 316.4 L239.7 312.0 L240.0 315.4 L240.3 313.6 L240.6 318.2 L240.9 314.1 L241.2 310.8 L241.4 311.7 L241.7 306.4 L242.0 309.3 L242.3 304.2 L242.6 302.9 L242.9 299.3 L243.2 303.8 L243.5 299.1 L243.8 304.8 L244.1 304.0 L244.4 306.5 L244.7 305.2 L245.0 308.7 L245.3 310.6 L245.6 312.9 L245.9 313.8 L246.2 311.8 L246.5 310.4 L246.8 305.0 L247.0 299.6 L247.3 295.8 L247.6 297.4 L247.9 293.8 L248.2 297.1 L248.5 296.1 L248.7 293.4 L249.0 297.2 L249.3 301.1 L249.6 297.7 L249.9 294.9 L250.2 292.6 L250.5 294.8 L250.8 291.2 L251.1 289.4 L251.4 290.3 L251.7 288.1 L252.0 286.6 L252.3 283.6 L252.6 281.3 L252.9 281.5 L253.2 281.6 L253.5 282.5 L253.8 280.0 L254.0 280.8 L254.3 281.2 L254.6 280.2 L254.9 280.7 L255.2 281.7 L255.5 281.8 L255.8 282.6 L256.1 281.4 L256.4 285.1 L256.7 286.4 L256.9 287.3 L257.2 287.5 L257.5 292.8 L257.9 301.0 L258.2 300.6 L258.5 301.3 L258.8 304.1 L259.1 301.6 L259.4 302.3 L259.7 300.7 L260.0 300.1 L260.3 301.9 L260.6 302.5 L260.9 301.8 L261.2 299.9 L261.5 301.6 L261.8 299.0 L262.1 294.2 L262.4 284.4 L262.7 276.4 L263.1 270.0 L263.4 261.8 L263.7 259.5 L264.0 262.5 L264.3 266.2 L264.6 265.4 L264.9 263.4 L265.2 269.4 L265.5 274.0 L265.8 278.8 L266.1 281.8 L266.4 285.0 L266.7 288.4 L267.0 290.3 L267.3 288.3 L267.6 287.2 L267.9 284.0 L268.2 285.9 L268.5 283.0 L268.8 283.5 L269.1 276.5 L269.4 281.5 L269.7 283.6 L270.0 284.6 L270.3 290.1 L270.5 291.1 L270.8 291.3 L271.1 291.5 L271.4 297.5 L271.7 297.6 L272.0 297.9 L272.3 295.3 L272.5 299.8 L272.8 300.2 L273.1 299.0 L273.4 299.5 L273.7 296.7 L274.0 298.8 L274.3 294.1 L274.5 295.7 L274.8 292.0 L275.1 289.0 L275.4 289.0 L275.7 287.3 L276.0 284.2 L276.3 285.5 L276.6 287.5 L276.9 286.1 L277.2 283.0 L277.5 284.4 L277.8 283.2 L278.1 283.6 L278.4 285.1 L278.7 285.3 L278.9 283.9 L279.2 279.2 L279.5 281.4 L279.8 280.1 L280.1 278.3 L280.4 278.2 L280.7 281.5 L281.0 274.4 L281.3 269.9 L281.7 272.8 L282.0 269.1 L282.3 271.6 L282.6 266.1 L282.9 264.3 L283.2 265.7 L283.5 268.5 L283.8 269.4 L284.1 270.8 L284.4 270.9 L284.7 271.3 L285.0 273.0 L285.3 278.3 L285.6 280.1 L285.9 280.3 L286.1 282.3 L286.4 285.3 L286.7 288.4 L287.0 287.6 L287.3 289.0 L287.6 291.9 L287.9 299.6 L288.3 298.2 L288.6 301.6 L288.9 298.0 L289.1 303.9 L289.4 302.4 L289.7 304.3 L290.0 307.7 L290.3 311.6 L290.6 315.4 L290.8 318.9 L291.1 321.4 L291.4 322.4 L291.7 331.5 L292.0 331.2 L292.3 333.4 L292.5 338.9 L292.8 340.1 L293.1 341.3 L293.4 342.7 L293.7 348.5 L294.0 345.3 L294.2 346.1 L294.5 350.7 L294.8 345.8 L295.1 346.7 L295.4 351.1 L295.7 348.6 L296.0 348.9 L296.3 349.9 L296.6 345.6 L296.9 347.1 L297.2 347.4 L297.5 347.6 L297.8 350.6 L298.0 353.3 L298.3 354.5 L298.6 355.5 L298.9 360.7 L299.2 364.1 L299.5 365.1 L299.7 365.2 L300.0 364.1 L300.3 365.5 L300.6 366.4 L300.9 371.0 L301.2 371.6 L301.5 370.5 L301.8 366.7 L302.1 363.2 L302.5 362.0 L302.8 359.8 L303.1 358.6 L303.4 358.6 L303.7 352.1 L304.0 354.7 L304.3 345.8 L304.6 342.8 L304.9 341.7 L305.2 341.9 L305.5 343.1 L305.7 348.3 L306.0 343.1 L306.3 344.9 L306.6 341.6 L306.9 341.1 L307.2 337.6 L307.4 343.5 L307.7 339.6 L308.0 336.4 L308.3 343.2 L308.6 341.4 L308.9 342.0 L309.2 341.5 L309.5 340.4 L309.8 339.3 L310.1 342.5 L310.4 348.4 L310.7 345.8 L311.0 342.6 L311.3 343.3 L311.6 338.0 L311.9 340.5 L312.2 337.2 L312.5 333.2 L312.8 334.3 L313.1 334.8 L313.4 332.9 L313.6 333.4 L313.9 335.3 L314.2 336.9 L314.5 332.1 L314.8 326.3 L315.1 335.0 L315.4 332.6 L315.7 330.6 L316.0 331.2 L316.2 328.9 L316.5 330.9 L316.8 325.7 L317.1 325.8 L317.4 322.7 L317.7 327.6 L318.0 324.6 L318.3 326.1 L318.6 326.3 L318.9 319.6 L319.2 318.7 L319.5 319.8 L319.8 317.8 L320.1 315.9 L320.4 316.6 L320.7 316.3 L321.0 311.3 L321.3 309.5 L321.7 309.5 L322.0 307.3 L322.3 305.2 L322.6 301.5 L322.9 306.3 L323.2 302.9 L323.5 302.4 L323.8 301.1 L324.1 300.3 L324.4 299.8 L324.7 296.8 L325.0 300.6 L325.3 305.1 L325.6 305.9 L326.0 308.1 L326.3 309.5 L326.6 308.9 L326.8 313.2 L327.1 309.2 L327.4 310.7 L327.7 313.1 L328.0 312.6 L328.3 309.6 L328.5 308.0 L328.8 313.5 L329.1 309.3 L329.4 309.9 L329.7 311.2 L330.0 310.4 L330.2 305.6 L330.5 306.3 L330.8 312.4 L331.1 314.6 L331.4 318.2 L331.7 322.0 L331.9 325.1 L332.2 324.4 L332.5 325.3 L332.8 333.5 L333.1 334.6 L333.4 335.5 L333.6 335.8 L333.9 343.6 L334.2 344.0 L334.5 343.8 L334.8 347.7 L335.1 348.4 L335.3 349.4 L335.6 345.5 L335.9 340.6 L336.2 343.3 L336.5 342.5 L336.8 339.3 L337.0 339.7 L337.3 336.4 L337.6 329.9 L337.9 329.3 L338.2 325.3 L338.5 323.5 L338.7 326.1 L339.0 320.0 L339.3 323.6 L339.6 324.5 L339.9 317.0 L340.2 318.2 L340.5 318.2 L340.8 315.5 L341.1 317.9 L341.3 319.4 L341.6 323.2 L341.9 324.3 L342.2 322.2 L342.5 330.5 L342.8 333.9 L343.1 332.2 L343.4 333.7 L343.7 336.1 L344.0 327.7 L344.3 326.7 L344.6 325.2 L344.8 326.4 L345.1 323.9 L345.4 321.7 L345.7 327.6 L346.0 326.4 L346.3 328.9 L346.5 333.9 L346.8 329.0 L347.1 328.5 L347.4 332.8 L347.7 332.9 L348.0 335.4 L348.2 336.1 L348.5 343.9 L348.8 342.6 L349.1 342.4 L349.4 340.8 L349.7 340.6 L350.0 335.4 L350.3 336.5 L350.6 338.9 L350.9 334.9 L351.2 336.1 L351.5 335.8 L351.8 334.4 L352.1 340.7 L352.4 335.6 L352.7 330.9 L353.0 324.5 L353.3 322.2 L353.6 318.4 L353.8 315.5 L354.1 313.1 L354.4 315.5 L354.7 318.2 L355.0 322.2 L355.3 325.0 L355.6 331.6 L355.9 327.9 L356.1 327.4 L356.4 332.9 L356.7 335.0 L357.0 336.0 L357.3 335.6 L357.6 339.3 L357.9 343.8 L358.1 342.7 L358.4 342.0 L358.7 345.9 L359.0 344.5 L359.3 343.0 L359.6 343.8 L359.9 337.6 L360.2 344.9 L360.5 342.4 L360.8 342.7 L361.1 342.0 L361.4 341.7 L361.7 337.2 L362.0 342.5 L362.3 340.8 L362.6 338.9 L362.9 344.3 L363.2 335.1 L363.5 336.0 L363.8 333.7 L364.1 329.0 L364.4 334.7 L364.7 329.4 L364.9 331.9 L365.2 332.6 L365.5 333.9 L365.8 332.0 L366.1 337.1 L366.4 336.7 L366.7 333.3 L366.9 332.6 L367.2 334.4 L367.5 330.8 L367.8 332.5 L368.1 332.0 L368.4 328.8 L368.6 323.8 L368.9 322.6 L369.2 326.4 L369.5 325.5 L369.8 330.6 L370.1 326.9 L370.4 327.4 L370.7 328.2 L371.0 326.9 L371.3 326.9 L371.6 328.3 L371.9 326.0 L372.2 325.3 L372.5 322.7 L372.8 326.5 L373.0 322.9 L373.3 322.4 L373.6 312.6 L373.9 314.2 L374.2 313.2 L374.5 315.3 L374.8 314.5 L375.1 312.5 L375.4 313.3 L375.7 315.8 L376.0 317.0 L376.3 313.3 L376.6 314.9 L376.9 310.9 L377.2 311.8 L377.5 308.0 L377.9 310.5 L378.1 317.1 L378.4 314.8 L378.7 319.2 L379.0 316.0 L379.3 318.3 L379.6 328.5 L379.8 327.2 L380.1 327.2 L380.4 322.2 L380.7 324.3 L381.0 323.2 L381.3 327.5 L381.5 324.9 L381.8 331.2 L382.1 328.4 L382.5 333.1 L382.8 331.6 L383.1 337.2 L383.4 345.2 L383.7 345.7 L384.0 344.3 L384.2 349.4 L384.5 353.5 L384.8 355.0 L385.1 354.8 L385.4 348.2 L385.7 352.7 L385.9 350.8 L386.2 342.6 L386.5 348.3 L386.8 343.9 L387.1 343.8 L387.4 337.1 L387.7 342.3 L387.9 343.9 L388.2 353.3 L388.5 356.7 L388.8 358.8 L389.1 361.1 L389.3 366.6 L389.6 365.1 L389.9 368.9 L390.1 377.5 L390.4 387.1 L390.7 395.0 L390.9 402.1 L391.2 409.6 L391.5 417.9 L391.8 418.7 L392.1 421.2 L392.5 426.8 L392.8 430.0 L393.1 432.1 L393.4 441.5 L393.6 445.1 L393.9 456.1 L394.2 459.9 L394.4 467.8 L394.7 477.1 L394.9 468.3 L395.2 468.8 L395.5 462.9 L395.7 450.7 L396.0 437.8 L396.3 428.1 L396.6 428.9 L396.8 428.0 L397.1 435.3 L397.4 438.9 L397.7 454.2 L398.0 468.3 L398.3 477.6 L398.6 502.6 L398.8 526.2 L399.1 525.9 L399.3 526.2 L399.6 508.7 L399.9 488.9 L400.3 471.1 L400.5 469.7 L400.8 461.6 L401.1 458.3 L401.3 464.4 L401.6 471.6 L401.8 480.8 L402.1 473.6 L402.4 468.4 L402.6 456.7 L402.7 445.2 L403.1 435.4 L403.4 424.6 L403.8 413.6 L404.1 415.2 L404.4 413.5 L404.7 408.3 L405.0 407.2 L405.3 409.8 L405.6 403.8 L405.9 402.4 L406.2 404.5 L406.5 398.1 L406.8 396.9 L407.1 398.8 L407.4 400.2 L407.7 400.2 L408.1 398.0 L408.4 399.9 L408.7 395.0 L409.0 388.3 L409.3 388.8 L409.6 390.6 L409.9 390.4 L410.2 384.7 L410.5 387.9 L410.7 386.0 L411.0 386.5 L411.3 390.4 L411.6 387.7 L411.9 385.3 L412.2 385.5 L412.5 384.3 L412.8 390.1 L413.1 389.1 L413.4 388.9 L413.7 384.9 L414.0 383.5 L414.3 385.0 L414.6 379.7 L415.0 385.2 L415.3 381.7 L415.6 383.5 L415.9 384.6 L416.2 382.2 L416.5 384.0 L416.8 385.3 L417.0 388.5 L417.3 386.0 L417.6 388.4 L417.9 385.9 L418.2 383.4 L418.5 384.9 L418.8 382.1 L419.1 382.6 L419.4 383.8 L419.7 386.5 L420.0 386.0 L420.3 382.4 L420.6 388.2 L421.0 388.2 L421.3 385.7 L421.6 382.9 L421.9 384.4 L422.1 383.7 L422.4 383.5 L422.7 380.9 L423.0 383.1 L423.3 379.0 L423.6 379.2 L423.9 378.6 L424.2 380.2 L424.5 376.5 L424.8 375.9 L425.1 375.7 L425.4 374.4 L425.7 373.7 L426.1 373.1 L426.4 378.0 L426.7 382.0 L427.0 378.1 L427.3 381.3 L427.6 378.5 L428.0 382.4 L428.3 387.8 L428.6 393.5 L428.9 399.2 L429.2 391.5 L429.6 388.6 L429.9 389.2 L430.2 387.0 L430.5 390.1 L430.8 387.1 L431.1 385.6 L431.5 389.8 L431.8 382.6 L432.1 382.4 L432.4 395.2 L432.7 393.4 L433.1 396.0 L433.4 397.8 L433.7 393.9 L434.0 392.9 L434.3 388.4 L434.6 390.7 L435.0 389.8 L435.3 387.8 L435.6 383.9 L435.9 380.1 L436.2 382.0 L436.5 381.1 L436.8 384.1 L437.1 380.4 L437.4 380.5 L437.7 382.9 L438.0 388.2 L438.3 391.7 L438.6 392.1 L438.9 395.9 L439.3 406.0 L439.6 404.4 L439.9 398.9 L440.2 402.5 L440.5 398.2 L440.8 396.1 L441.1 392.6 L441.4 396.0 L441.7 393.1 L442.0 390.2 L442.3 385.9 L442.6 382.4 L442.9 383.3 L443.2 382.0 L443.5 384.6 L443.8 379.0 L444.1 377.5 L444.4 379.4 L444.7 378.9 L445.0 374.4 L445.3 377.1 L445.6 374.9 L445.9 374.8 L446.2 372.9 L446.5 373.2 L446.8 369.6 L447.1 368.3 L447.4 370.3 L447.7 368.9 L448.0 367.8 L448.3 368.9 L448.6 366.8 L448.9 366.1 L449.2 359.4 L449.5 360.5 L449.8 363.7 L450.1 360.4 L450.4 360.3 L450.5 359.5 L450.5 356.3 L450.8 361.7 L451.1 364.7 L451.4 362.7 L451.7 364.6 L452.0 361.5 L452.3 359.3 L452.6 360.6 L452.9 361.5 L453.2 359.6 L453.5 349.9 L453.9 343.2 L454.2 344.5 L454.5 345.6 L454.7 348.2 L455.0 344.3 L455.3 342.3 L455.6 338.1 L455.9 345.1 L456.2 347.1 L456.4 346.2 L456.7 344.6 L457.0 339.0 L457.3 344.5 L457.6 342.6 L457.9 347.1 L458.1 346.6 L458.4 345.5 L458.7 340.4 L459.0 340.2 L459.3 332.6 L459.6 335.2 L459.8 330.5 L460.1 324.4 L460.4 322.2 L460.7 318.3 L461.0 317.9 L461.3 315.6 L461.5 313.0 L461.8 313.7 L462.1 313.6 L462.4 314.1 L462.8 312.9 L463.1 311.9 L463.4 310.3 L463.7 312.4 L464.0 303.4 L464.2 305.6 L464.5 308.6 L464.8 302.9 L465.1 302.5 L465.4 302.4 L465.7 297.1 L465.9 296.6 L466.2 300.7 L466.5 300.6 L466.8 305.6 L467.1 309.9 L467.4 306.3 L467.7 313.9 L468.1 326.8 L468.4 323.3 L468.6 318.3 L468.9 317.2 L469.2 314.9 L469.5 312.6 L469.8 317.1 L470.1 320.0 L470.4 320.4 L470.7 319.6 L471.0 322.1 L471.3 323.0 L471.6 324.7 L471.9 319.7 L472.2 311.6 L472.5 316.6 L472.8 313.5 L473.1 311.1 L473.4 310.0 L473.7 308.1 L474.0 308.4 L474.3 313.4 L474.6 312.4 L474.9 312.9 L475.2 311.0 L475.4 309.6 L475.7 308.9 L476.0 305.9 L476.3 304.4 L476.6 299.4 L476.9 301.1 L477.2 298.2 L477.5 298.3 L477.8 297.3 L478.1 298.9 L478.4 301.3 L478.7 300.0 L479.0 300.0 L479.3 304.2 L479.5 309.8 L479.8 312.9 L480.1 315.4 L480.4 309.6 L480.7 307.7 L481.0 305.6 L481.2 304.1 L481.5 304.0 L481.8 302.5 L482.1 300.0 L482.4 300.1 L482.7 296.1 L482.9 294.4 L483.0 297.0 L483.3 289.0 L483.7 284.2 L483.9 282.0 L484.2 281.3 L484.5 282.6 L484.8 282.4 L485.1 282.8 L485.4 282.3 L485.7 278.0 L486.0 282.9 L486.3 282.6 L486.6 275.8 L486.9 274.0 L487.2 273.1 L487.5 273.7 L487.8 274.1 L488.0 272.1 L488.3 264.7 L488.6 274.1 L488.9 272.9 L489.2 272.3 L489.5 268.4 L489.7 268.9 L490.0 270.9 L490.3 268.2 L490.6 271.0 L490.9 271.1 L491.2 275.6 L491.4 274.7 L491.7 278.7 L492.0 273.9 L492.3 280.3 L492.6 281.3 L492.9 282.3 L493.1 288.1 L493.4 289.1 L493.7 294.0 L494.0 298.1 L494.3 294.7 L494.6 293.6 L494.9 288.7 L495.2 287.1 L495.6 279.7 L495.8 279.3 L496.1 280.9 L496.4 281.8 L496.7 280.6 L497.0 284.7 L497.3 284.3 L497.5 287.6 L497.8 290.0 L498.1 291.5 L498.4 292.1 L498.7 296.4 L498.9 298.9 L499.3 306.2 L499.6 309.7 L499.9 314.2 L500.2 306.7 L500.6 301.6 L500.9 294.8 L501.2 290.5 L501.5 289.8 L501.8 288.6 L502.1 288.1 L502.4 286.6 L502.7 290.8 L503.0 288.2 L503.3 289.9 L503.6 287.5 L503.9 288.6 L504.2 284.3 L504.5 281.7 L504.8 285.2 L505.1 282.2 L505.3 281.6 L505.6 281.9 L505.9 280.6 L506.2 278.3 L506.5 273.1 L506.8 271.6 L507.0 271.8 L507.3 272.4 L507.6 271.4 L507.9 269.7 L508.2 265.6 L508.5 265.0 L508.7 265.3 L509.0 259.7 L509.3 256.9 L509.6 257.9 L509.9 258.3 L510.2 254.3 L510.4 250.5 L510.7 245.7 L511.0 244.7 L511.3 241.5 L511.5 241.2 L511.8 241.2 L512.1 239.9 L512.5 240.5 L512.8 234.4 L513.1 230.8 L513.4 234.7 L513.7 238.8 L514.0 237.5 L514.3 241.6 L514.5 242.1 L514.8 246.7 L515.1 251.0 L515.4 255.9 L515.7 251.0 L516.0 247.9 L516.2 250.3 L516.5 248.3 L516.8 250.9 L517.1 245.2 L517.4 243.6 L517.7 242.5 L518.0 253.7 L518.3 260.7 L518.7 263.6 L519.0 265.5 L519.2 267.9 L519.5 274.9 L519.8 284.0 L520.1 297.5 L520.4 304.5 L520.6 296.6 L520.9 293.4 L521.2 289.7 L521.5 285.5 L521.7 277.8 L522.0 279.2 L522.3 284.0 L522.6 285.9 L522.9 285.0 L523.2 292.1 L523.4 290.5 L523.7 289.3 L524.0 289.4 L524.3 287.9 L524.6 284.0 L524.9 285.8 L525.1 283.4 L525.4 278.9 L525.7 277.6 L526.0 275.7 L526.3 271.6 L526.6 271.2 L526.8 266.9 L527.1 264.7 L527.4 264.8 L527.7 259.1 L528.0 257.3 L528.3 253.6 L528.5 254.5 L528.8 250.2 L529.1 252.6 L529.4 251.1 L529.7 243.8 L530.0 242.1 L530.2 239.0 L530.5 237.5 L530.8 237.2 L531.1 237.7 L531.4 238.2 L531.7 236.3 L532.0 227.7 L532.2 225.6 L532.5 224.6 L532.8 223.1 L533.1 222.7 L533.4 222.8 L533.7 219.3 L533.9 216.9 L534.2 222.0 L534.5 218.9 L534.8 220.4 L535.1 213.6 L535.4 214.9 L535.6 215.1 L536.0 212.9 L536.3 205.9 L536.6 205.2 L536.9 200.7 L537.2 196.9 L537.6 189.4 L537.9 181.7 L538.2 171.2 L538.5 161.1 L538.9 152.9 L539.2 140.5 L539.5 134.5 L539.8 128.2 L540.0 120.6 L540.3 112.8 L540.6 101.4 L540.9 111.3 L541.3 120.7 L541.6 132.9 L541.9 150.5 L542.2 175.7 L542.6 195.1 L542.8 190.0 L543.1 179.5 L543.4 171.1 L543.6 158.9 L543.9 147.0 L544.2 127.1 L544.4 143.7 L544.7 155.0 L545.0 173.3 L545.2 162.5 L545.5 154.9 L545.8 143.6 L546.0 157.1 L546.3 167.6 L546.5 181.7 L546.8 169.6 L547.1 161.1 L547.3 147.5 L547.6 168.0 L547.9 188.2 L548.1 210.0 L548.4 197.2 L548.7 184.5 L548.9 171.1 L549.2 179.0 L549.5 182.3 L549.7 188.8 L550.0 173.5 L550.3 164.9 L550.5 159.3 L550.8 162.1 L551.0 173.0 L551.3 181.1 L551.6 171.1 L551.8 163.2 L552.1 153.8 L552.4 159.6 L552.6 169.7 L552.9 174.8 L553.2 171.3 L553.4 160.1 L553.7 151.9 L554.0 160.2 L554.4 177.2 L554.7 189.0 L554.9 171.2 L555.2 154.1 L555.5 138.0 L555.8 134.5 L556.1 133.9 L556.4 132.9 L556.7 133.3 L557.1 135.5 L557.3 133.0 L557.6 128.2 L557.9 125.6 L558.2 120.7 L558.5 116.8 L558.8 111.5 L559.0 109.0 L559.3 106.8 L559.6 107.3 L559.9 109.4 L560.2 112.5 L560.5 116.3 L560.8 117.5 L561.1 116.9 L561.4 117.0 L561.7 121.8 L562.0 128.8 L562.3 131.0 L562.6 133.6 L562.9 135.5 L563.2 139.0 L563.5 140.5 L563.7 139.5 L564.0 133.2 L564.3 140.0 L564.7 147.7 L565.0 154.5 L565.3 158.6 L565.6 154.6 L565.9 157.4 L566.1 155.0 L566.4 158.4 L566.7 160.3 L567.0 164.9 L567.3 164.1 L567.6 159.1 L567.8 161.0 L568.1 162.6 L568.4 165.5 L568.7 161.3 L569.0 159.3 L569.3 164.7 L569.6 173.7 L570.0 177.3 L570.2 179.9 L570.5 183.2 L570.8 183.0 L571.1 188.9 L571.3 186.2 L571.6 193.3 L571.9 190.5 L572.2 189.5 L572.5 190.1 L572.8 189.9 L573.0 191.1 L573.3 192.2 L573.6 191.0 L573.9 192.6 L574.2 194.0 L574.5 192.1 L574.8 193.0 L575.1 190.6 L575.3 191.9 L575.6 190.9 L575.9 188.4 L576.2 194.4 L576.6 198.5 L576.9 201.4 L577.0 217.1 L577.0 214.9 L577.3 214.7 L577.6 218.5 L577.9 224.6 L578.3 227.4 L578.6 232.3 L578.9 240.0 L579.2 231.6 L579.5 231.5 L579.7 228.8 L580.0 231.2 L580.3 229.1 L580.6 222.9 L580.9 225.5 L581.2 231.6 L581.5 237.6 L581.8 245.1 L582.1 252.8 L582.5 257.7 L582.7 251.3 L583.0 248.7 L583.3 237.8 L583.6 230.6 L583.8 226.9 L584.2 218.0 L584.5 212.8 L584.8 208.3 L585.2 209.5 L585.5 213.7 L585.8 216.0 L586.1 220.8 L586.4 226.0 L586.7 228.7 L587.0 231.9 L587.3 235.2 L587.5 239.1 L587.8 238.0 L588.1 235.8 L588.4 236.1 L588.7 229.7 L588.9 225.0 L589.2 221.7 L589.5 217.7 L589.8 217.8 L590.2 214.9 L590.5 212.0 L590.8 211.5 L591.1 216.9 L591.4 214.9 L591.7 218.7 L592.1 222.9 L592.4 224.0 L592.7 230.0 L592.9 236.8 L593.2 237.4 L593.5 239.9 L593.8 234.6 L594.1 238.4 L594.3 239.5 L594.6 246.7 L594.9 248.9 L595.2 251.4 L595.5 255.7 L595.8 259.7 L596.0 265.2 L596.3 268.6 L596.6 270.7 L596.9 267.5 L597.2 275.2 L597.5 277.2 L597.7 276.1 L598.0 275.8 L598.3 273.0 L598.6 270.5 L598.8 270.3 L599.1 263.0 L599.4 264.1 L599.7 264.5 L600.0 257.9 L600.3 260.2 L600.5 254.9 L600.8 251.6 L601.1 253.1 L601.4 255.5 L601.7 254.3 L602.0 258.8 L602.2 265.8 L602.5 267.5 L602.8 270.5 L603.1 274.9 L603.1 251.5 L603.4 254.3 L603.7 257.4 L603.9 264.5 L604.2 271.6 L604.5 259.8 L604.8 260.0 L605.1 258.9 L605.3 251.5 L605.6 251.7 L605.9 245.9 L606.2 249.3 L606.6 251.7 L606.9 252.0 L607.2 242.1 L607.5 244.6 L607.8 246.0 L608.0 251.6 L608.3 257.8 L608.6 259.5 L608.9 264.8 L609.2 260.7 L609.5 261.4 L609.7 263.1 L610.0 267.2 L610.3 270.7 L610.6 267.8 L610.9 262.8 L611.2 263.1 L611.4 255.8 L611.7 255.5 L612.0 249.9 L612.3 253.1 L612.6 260.8 L612.9 259.5 L613.1 261.2 L613.4 261.3 L613.7 261.9 L614.0 263.2 L614.3 260.4 L614.6 253.7 L614.9 254.0 L615.2 255.8 L615.5 249.3 L615.8 252.7 L616.1 254.1 L616.4 257.4 L616.7 259.7 L617.0 261.6 L617.3 279.7 L617.7 294.0 L618.0 286.8 L618.2 285.4 L618.5 284.2 L618.8 281.4 L619.1 281.9 L619.4 276.8 L619.7 272.8 L619.9 264.0 L620.2 258.8 L620.6 255.4 L620.9 251.5 L621.2 247.5 L621.5 245.4 L621.8 245.3 L622.1 248.7 L622.4 243.4 L622.7 238.7 L623.0 240.8 L623.3 238.0 L623.6 243.7 L623.9 247.7 L624.2 252.1 L624.5 251.5 L624.8 248.5 L625.1 255.9 L625.4 258.0 L625.7 260.6 L626.0 259.8 L626.3 259.6 L626.6 261.4 L626.9 258.7 L627.2 272.8 L627.5 279.8 L627.9 288.1 L628.2 285.6 L628.4 278.8 L628.7 277.3 L629.0 270.5 L629.3 276.5 L629.6 275.9 L629.9 274.2 L630.2 272.6 L630.5 271.3 L630.8 269.5 L631.1 265.4 L631.4 269.7 L631.7 272.4 L632.0 275.6 L632.3 279.8 L632.6 278.3 L632.8 277.3 L633.1 277.5 L633.4 277.3 L633.7 279.7 L634.0 283.9 L634.3 282.9 L634.5 286.7 L634.8 288.9 L635.1 292.6 L635.4 299.8 L635.7 293.7 L636.0 290.1 L636.2 285.3 L636.5 279.7 L636.8 279.4 L637.1 280.1 L637.4 285.9 L637.7 283.5 L637.9 288.0 L638.2 294.1 L638.5 289.4 L638.8 289.7 L639.1 292.1 L639.4 290.1 L639.6 286.1 L640.0 280.8 L640.3 277.1 L640.6 270.3 L640.9 268.5 L641.2 268.1 L641.6 263.7 L641.9 267.8 L642.2 262.9 L642.5 261.5 L642.8 260.0 L643.1 261.4 L643.4 256.5 L643.7 259.3 L644.0 258.6 L644.3 254.6 L644.6 247.1 L644.9 244.1 L645.2 244.8 L645.5 245.5 L645.7 245.9 L646.0 246.6 L646.3 244.4 L646.6 241.9 L646.9 241.1 L647.2 234.4 L647.4 238.8 L647.7 236.2 L648.0 235.4 L648.3 239.1 L648.6 242.1 L648.9 242.4 L649.1 246.0 L649.4 249.1 L649.7 252.5 L650.0 254.3 L650.3 253.9 L650.6 252.6 L650.8 253.6 L651.1 249.1 L651.4 246.5 L651.7 239.6 L652.0 241.0 L652.3 244.0 L652.5 240.3 L652.8 235.1 L653.1 235.1 L653.4 233.7 L653.7 232.0 L654.0 224.0 L654.2 219.7 L654.5 221.2 L654.8 220.6 L655.1 219.3 L655.4 213.5 L655.7 215.8 L655.9 218.3 L656.2 216.6 L656.5 218.3 L656.8 213.0 L657.1 209.5 L657.4 211.2 L657.6 209.1 L657.9 203.9 L658.2 205.7 L658.5 212.4 L658.8 214.7 L659.1 221.1 L659.3 223.6 L659.6 224.5 L659.9 221.8 L660.2 221.8 L660.5 223.6 L660.8 221.4 L661.0 222.8 L661.3 222.3 L661.6 223.1 L661.9 221.7 L662.2 222.0 L662.5 218.9 L662.7 223.4 L663.0 226.5 L663.3 230.8 L663.6 226.7 L663.9 226.8 L664.2 228.7 L664.4 229.3 L664.8 235.6 L665.2 239.7 L665.4 243.1 L665.7 240.0 L666.0 243.8 L666.3 239.9 L666.6 241.5 L666.9 245.3 L667.1 248.2 L667.4 248.3 L667.7 248.5 L668.0 248.3 L668.3 246.0 L668.6 246.4 L668.9 255.6 L669.2 251.2 L669.5 250.7 L669.8 250.9 L670.1 254.8 L670.4 258.1 L670.7 259.9 L671.0 260.4 L671.2 264.8 L671.5 264.8 L671.8 273.4 L672.1 282.6 L672.4 283.5 L672.7 290.1 L673.0 283.6 L673.3 278.2 L673.7 270.7 L673.9 272.7 L674.2 272.8 L674.5 275.5 L674.8 278.7 L675.1 271.3 L675.4 272.9 L675.6 268.2 L675.9 266.5 L676.2 263.6 L676.5 265.8 L676.8 275.8 L677.2 280.8 L677.5 281.1 L677.8 278.9 L678.0 279.5 L678.3 277.6 L678.6 280.0 L678.9 274.1 L679.2 281.0 L679.5 279.7 L679.8 273.6 L680.0 270.4 L680.3 268.3 L680.6 267.6 L680.9 266.5 L681.2 268.8 L681.6 262.9 L681.9 256.2 L682.2 257.8 L682.4 262.2 L682.7 262.7 L683.0 268.5 L683.3 270.1 L683.6 271.0 L683.9 271.2 L684.1 267.8 L684.4 268.2 L684.7 272.8 L685.0 272.6 L685.3 268.4 L685.6 263.7 L685.8 260.4 L686.1 253.8 L686.4 252.6 L686.7 250.6 L687.0 249.8 L687.3 254.2 L687.6 250.0 L687.9 249.9 L688.2 249.6 L688.5 251.2 L688.8 249.3 L689.1 250.5 L689.4 250.8 L689.8 249.7 L690.1 248.5 L690.4 247.1 L690.7 251.8 L690.9 247.3 L691.2 249.6 L691.5 250.7 L691.8 244.9 L692.1 241.0 L692.4 238.9 L692.6 238.6 L692.9 242.1 L693.2 237.6 L693.5 234.6 L693.8 232.9 L694.1 236.6 L694.3 238.9 L694.6 242.4 L694.9 240.9 L695.2 237.5 L695.5 235.1 L695.8 239.9 L696.0 237.2 L696.3 233.3 L696.7 228.3 L697.0 226.0 L697.3 224.5 L697.6 225.6 L697.9 228.2 L698.2 227.1 L698.6 233.5 L698.9 229.8 L699.2 233.1 L699.4 233.6 L699.7 234.0 L700.0 234.8 L700.3 233.6 L700.6 233.4 L700.9 236.9 L701.2 238.2 L701.5 236.2 L701.8 238.0 L702.1 234.3 L702.4 238.8 L702.7 236.0 L703.0 244.3 L703.3 244.3 L703.5 249.4 L703.8 249.1 L704.2 246.4 L704.5 248.7 L704.8 251.3 L705.1 246.1 L705.4 250.7 L705.7 248.6 L706.0 245.8 L706.3 246.8 L706.6 249.1 L706.9 251.3 L707.2 249.0 L707.5 249.8 L707.8 252.6 L708.1 256.2 L708.4 263.6 L708.6 265.8 L708.9 268.9 L709.2 268.0 L709.5 264.5 L709.8 261.7 L710.1 261.7 L710.3 262.0 L710.6 263.3 L710.9 260.0 L711.2 252.8 L711.6 250.1 L711.9 252.6 L712.2 246.9 L712.5 244.0 L712.8 239.3 L713.0 237.4 L713.3 238.7 L713.6 239.6 L713.9 241.6 L714.2 240.6 L714.5 235.3 L714.7 242.3 L715.0 239.2 L715.3 232.4 L715.6 237.1 L715.9 238.2 L716.2 236.9 L716.4 237.5 L716.7 239.5 L717.0 234.3 L717.3 239.5 L717.6 239.5 L717.9 240.2 L718.1 237.4 L718.4 236.1 L718.7 243.8 L719.0 236.7 L719.3 246.8 L719.6 252.0 L719.8 249.2 L720.1 251.6 L720.4 252.1 L720.7 253.3 L721.0 252.8 L721.3 253.2 L721.5 254.6 L721.8 253.2 L722.1 253.6 L722.4 253.1 L722.7 248.8 L723.0 252.4 L723.3 255.6 L723.6 250.7 L723.9 253.8 L724.2 256.0 L724.5 260.1 L724.8 259.8 L725.1 265.7 L725.4 263.6 L725.7 269.3 L726.0 265.1 L726.3 270.5 L726.6 269.3 L726.9 270.6 L727.3 275.3 L727.6 280.9 L727.9 281.2 L728.2 285.7 L728.5 288.3 L728.8 292.9 L729.1 296.5 L729.4 293.0 L729.7 286.6 L730.0 279.1 L730.4 274.7 L730.7 279.1 L731.0 276.5 L731.3 276.0 L731.6 277.5 L731.9 276.6 L732.2 279.5 L732.5 282.5 L732.7 280.7 L733.0 288.0 L733.3 290.2 L733.6 288.0 L733.9 282.9 L734.2 277.2 L734.4 276.7 L734.8 270.3 L735.1 267.0 L735.4 261.9 L735.7 265.7 L736.0 269.9 L736.3 272.7 L736.6 272.4 L736.8 274.1 L737.1 279.3 L737.4 278.5 L737.7 278.7 L738.0 280.6 L738.3 284.3 L738.5 284.1 L738.8 287.9 L739.1 290.4 L739.4 292.9 L739.7 289.8 L740.1 281.6 L740.4 276.2 L740.7 279.2 L741.0 281.8 L741.2 284.0 L741.5 286.7 L741.8 285.5 L742.1 282.1 L742.4 289.7 L742.7 295.3 L742.9 293.6 L743.2 295.1 L743.5 294.7 L743.8 289.2 L744.1 287.5 L744.4 284.6 L744.6 284.4 L744.9 285.4 L745.2 290.3 L745.5 287.1 L745.8 287.3 L746.1 286.7 L746.4 288.3 L746.7 287.2 L747.0 285.6 L747.3 286.1 L747.6 281.7 L747.9 278.2 L748.2 284.2 L748.5 283.6 L748.8 282.3 L749.0 287.6 L749.3 288.4 L749.6 287.3 L749.9 288.8 L750.2 290.5 L750.5 290.1 L750.7 287.6 L751.0 290.5 L751.3 283.8 L751.6 281.8 L751.9 281.3 L752.2 276.4 L752.4 277.3 L752.7 275.9 L753.0 275.7 L753.3 273.0 L753.6 274.8 L753.9 266.7 L754.1 263.8 L754.4 260.6 L754.7 258.9 L755.0 257.9 L755.3 251.8 L755.6 252.6 L755.9 255.5 L756.2 255.2 L756.5 252.5 L756.8 257.2 L757.1 259.2 L757.4 257.7 L757.7 259.3 L758.0 261.5 L758.2 261.4 L758.5 266.9 L758.8 271.8 L759.1 271.9 L759.4 270.1 L759.7 271.5 L759.9 272.6 L760.2 277.8 L760.5 274.4 L760.8 275.5 L761.1 274.3 L761.4 277.4 L761.6 274.1 L761.9 276.8 L762.2 276.3 L762.5 278.8 L762.8 275.6 L763.1 278.1 L763.4 282.9 L763.6 284.5 L763.9 282.0 L764.2 290.4 L764.5 289.4 L764.8 289.1 L765.1 290.3 L765.3 290.9 L765.6 298.2 L765.9 301.7 L766.2 301.3 L766.5 294.8 L766.8 289.8 L767.0 286.6 L767.3 286.4 L767.6 287.6 L767.9 285.9 L768.2 283.4 L768.5 286.8 L768.7 284.5 L769.0 284.7 L769.3 285.8 L769.6 280.3 L769.9 278.0 L770.2 280.2 L770.4 278.2 L770.7 281.9 L771.0 283.7 L771.3 288.5 L771.6 291.3 L771.9 301.6 L772.2 309.1 L772.6 321.1 L772.8 315.3 L773.1 313.3 L773.4 312.7 L773.7 307.3 L774.0 305.7 L774.3 305.6 L774.5 304.1 L774.8 305.7 L775.1 302.0 L775.4 301.5 L775.7 307.8 L776.0 308.1 L776.2 310.1 L776.5 313.1 L776.8 318.3 L777.1 320.4 L777.4 320.8 L777.7 322.2 L777.9 322.2 L778.2 328.2 L778.5 325.3 L778.8 318.1 L779.1 317.8 L779.4 310.6 L779.6 308.2 L779.9 306.3 L780.2 309.5 L780.5 310.2 L780.8 304.5 L781.1 303.3 L781.3 308.0 L781.6 306.1 L781.9 311.2 L782.2 307.9 L782.5 311.9 L782.8 310.0 L783.0 315.9 L783.3 315.0 L783.6 313.6 L783.9 312.8 L784.2 305.6 L784.5 307.7 L784.8 308.7 L785.0 311.9 L785.3 303.0 L785.6 303.6 L785.9 302.3 L786.2 298.9 L786.5 293.6 L786.7 286.7 L787.0 277.4 L787.3 272.1 L787.6 262.3 L787.9 267.6 L788.2 273.9 L788.6 276.9 L788.9 282.5 L789.2 291.8 L789.6 300.6 L789.9 299.9 L790.2 297.7 L790.5 298.5 L790.8 293.4 L791.1 293.4 L791.4 286.6 L791.7 290.5 L792.0 293.2 L792.3 297.9 L792.5 294.8 L792.8 300.6 L793.1 296.1 L793.4 292.8 L793.8 287.9 L794.1 291.2 L794.4 288.1 L794.7 289.3 L795.0 287.7 L795.2 288.0 L795.5 285.8 L795.8 282.6 L796.1 281.5 L796.4 281.5 L796.7 285.1 L796.9 285.1 L797.2 290.5 L797.5 287.0 L797.8 288.9 L798.1 295.2 L798.4 297.8 L798.6 303.9 L798.9 305.0 L799.2 301.7 L799.5 301.0 L799.8 304.1 L800.1 305.8 L800.3 309.1" stroke="#000" stroke-width="3.0"/>
</g>
<text x="14.2" y="29.8" font-size="27" text-anchor="start" font-family="Liberation Serif, serif" font-weight="bold" fill="#000" textLength="127.5" lengthAdjust="spacingAndGlyphs">Breakeven</text>
<text x="150.9" y="29.8" font-size="27" text-anchor="start" font-family="Liberation Serif, serif" font-weight="bold" fill="#000" textLength="103.6" lengthAdjust="spacingAndGlyphs">Inflation</text>
<text x="262.9" y="29.8" font-size="27" text-anchor="start" font-family="Liberation Serif, serif" font-weight="bold" fill="#000" textLength="64.3" lengthAdjust="spacingAndGlyphs">Rates</text>
<text x="334.7" y="29.8" font-size="27" text-anchor="start" font-family="Liberation Serif, serif" font-weight="bold" fill="#000" textLength="31.1" lengthAdjust="spacingAndGlyphs">Vs.</text>
<text x="375" y="29.8" font-size="27" text-anchor="start" font-family="Liberation Serif, serif" font-weight="bold" fill="#000" textLength="33.2" lengthAdjust="spacingAndGlyphs">Oil</text>
<path d="M84.5 67.2 H109.5" stroke="#0d8fd8" stroke-width="3.2" stroke-linecap="round"/>
<text x="113.3" y="70.8" font-size="12.3" text-anchor="start" font-family="Liberation Sans, sans-serif" font-weight="bold" fill="#000" textLength="200.3" lengthAdjust="spacingAndGlyphs">10-Year Breakeven Inflation Rate</text>
<path d="M346.5 67.2 H370.5" stroke="#e9323c" stroke-width="3.2" stroke-linecap="round"/>
<text x="374.7" y="70.8" font-size="12.3" text-anchor="start" font-family="Liberation Sans, sans-serif" font-weight="bold" fill="#000" textLength="192.7" lengthAdjust="spacingAndGlyphs">5-Year Breakeven Inflation Rate</text>
<path d="M600.8 67.2 H625.5" stroke="#000" stroke-width="3.2" stroke-linecap="round"/>
<text x="628.5" y="70.8" font-size="12.3" text-anchor="start" font-family="Liberation Sans, sans-serif" font-weight="bold" fill="#000" textLength="171.4" lengthAdjust="spacingAndGlyphs">West Tx Intermediate Crude</text>
<text x="65" y="99.3" font-size="10.7" text-anchor="end" font-family="Liberation Sans, sans-serif" font-weight="bold" fill="#000">3.8</text>
<text x="812.6" y="99.3" font-size="10.7" text-anchor="start" font-family="Liberation Sans, sans-serif" font-weight="bold" fill="#000">126.0</text>
<text x="65" y="146.8" font-size="10.7" text-anchor="end" font-family="Liberation Sans, sans-serif" font-weight="bold" fill="#000">3.4</text>
<text x="812.6" y="146.8" font-size="10.7" text-anchor="start" font-family="Liberation Sans, sans-serif" font-weight="bold" fill="#000">112.0</text>
<text x="65" y="194.3" font-size="10.7" text-anchor="end" font-family="Liberation Sans, sans-serif" font-weight="bold" fill="#000">3</text>
<text x="812.6" y="194.3" font-size="10.7" text-anchor="start" font-family="Liberation Sans, sans-serif" font-weight="bold" fill="#000">98.0</text>
<text x="65" y="241.8" font-size="10.7" text-anchor="end" font-family="Liberation Sans, sans-serif" font-weight="bold" fill="#000">2.6</text>
<text x="812.6" y="241.8" font-size="10.7" text-anchor="start" font-family="Liberation Sans, sans-serif" font-weight="bold" fill="#000">84.0</text>
<text x="65" y="289.4" font-size="10.7" text-anchor="end" font-family="Liberation Sans, sans-serif" font-weight="bold" fill="#000">2.2</text>
<text x="812.6" y="289.4" font-size="10.7" text-anchor="start" font-family="Liberation Sans, sans-serif" font-weight="bold" fill="#000">70.0</text>
<text x="65" y="336.9" font-size="10.7" text-anchor="end" font-family="Liberation Sans, sans-serif" font-weight="bold" fill="#000">1.8</text>
<text x="812.6" y="336.9" font-size="10.7" text-anchor="start" font-family="Liberation Sans, sans-serif" font-weight="bold" fill="#000">56.0</text>
<text x="65" y="384.4" font-size="10.7" text-anchor="end" font-family="Liberation Sans, sans-serif" font-weight="bold" fill="#000">1.4</text>
<text x="812.6" y="384.4" font-size="10.7" text-anchor="start" font-family="Liberation Sans, sans-serif" font-weight="bold" fill="#000">42.0</text>
<text x="65" y="431.9" font-size="10.7" text-anchor="end" font-family="Liberation Sans, sans-serif" font-weight="bold" fill="#000">1</text>
<text x="812.6" y="431.9" font-size="10.7" text-anchor="start" font-family="Liberation Sans, sans-serif" font-weight="bold" fill="#000">28.0</text>
<text x="65" y="479.4" font-size="10.7" text-anchor="end" font-family="Liberation Sans, sans-serif" font-weight="bold" fill="#000">0.6</text>
<text x="812.6" y="479.4" font-size="10.7" text-anchor="start" font-family="Liberation Sans, sans-serif" font-weight="bold" fill="#000">14.0</text>
<text x="65" y="526.9" font-size="10.7" text-anchor="end" font-family="Liberation Sans, sans-serif" font-weight="bold" fill="#000">0.2</text>
<text x="812.6" y="526.9" font-size="10.7" text-anchor="start" font-family="Liberation Sans, sans-serif" font-weight="bold" fill="#000">0.0</text>
<text x="76.6" y="542" font-size="10.7" text-anchor="middle" font-family="Liberation Sans, sans-serif" font-weight="bold" fill="#000">2016</text>
<text x="151.5" y="542" font-size="10.7" text-anchor="middle" font-family="Liberation Sans, sans-serif" font-weight="bold" fill="#000">2017</text>
<text x="226.4" y="542" font-size="10.7" text-anchor="middle" font-family="Liberation Sans, sans-serif" font-weight="bold" fill="#000">2018</text>
<text x="301.5" y="542" font-size="10.7" text-anchor="middle" font-family="Liberation Sans, sans-serif" font-weight="bold" fill="#000">2019</text>
<text x="376.6" y="542" font-size="10.7" text-anchor="middle" font-family="Liberation Sans, sans-serif" font-weight="bold" fill="#000">2020</text>
<text x="451.9" y="542" font-size="10.7" text-anchor="middle" font-family="Liberation Sans, sans-serif" font-weight="bold" fill="#000">2021</text>
<text x="527.1" y="542" font-size="10.7" text-anchor="middle" font-family="Liberation Sans, sans-serif" font-weight="bold" fill="#000">2022</text>
<text x="602.4" y="542" font-size="10.7" text-anchor="middle" font-family="Liberation Sans, sans-serif" font-weight="bold" fill="#000">2023</text>
<text x="677.6" y="542" font-size="10.7" text-anchor="middle" font-family="Liberation Sans, sans-serif" font-weight="bold" fill="#000">2024</text>
<text x="752.9" y="542" font-size="10.7" text-anchor="middle" font-family="Liberation Sans, sans-serif" font-weight="bold" fill="#000">2025</text>
<text x="0" y="0" font-size="10.4" text-anchor="middle" font-family="Liberation Sans, sans-serif" font-weight="bold" fill="#000" textLength="186" lengthAdjust="spacingAndGlyphs" transform="translate(24.4 305) rotate(-90)">REAL GDP, INFLATION EXPECTATIONS</text>
<text x="0" y="0" font-size="10.6" text-anchor="middle" font-family="Liberation Sans, sans-serif" font-weight="bold" fill="#000" textLength="52" lengthAdjust="spacingAndGlyphs" transform="translate(854.6 309.2) rotate(-90)">OIL PRICES</text>
<text x="771.6" y="19" font-size="13.8" text-anchor="start" font-family="Liberation Sans, sans-serif" font-weight="bold" fill="#383838" textLength="31" lengthAdjust="spacingAndGlyphs">Real</text>
<text x="771.6" y="32" font-size="13.8" text-anchor="start" font-family="Liberation Sans, sans-serif" font-weight="bold" fill="#383838" textLength="78" lengthAdjust="spacingAndGlyphs">Investment</text>
<text x="771.6" y="45" font-size="13.8" text-anchor="start" font-family="Liberation Sans, sans-serif" font-weight="bold" fill="#383838" textLength="48.7" lengthAdjust="spacingAndGlyphs">Advice</text>
<g transform="translate(712 0) scale(0.092)">
<path d="M66 95 C120 70 200 55 300 55 C380 55 450 70 490 85 L490 183 L495 185 C515 190 528 205 528 225 C528 250 520 270 510 285 C500 270 485 262 465 260 C420 258 370 270 330 292 C285 320 250 360 242 410 C238 450 250 490 278 516 C255 500 225 465 208 430 C198 395 200 350 207 316 C190 345 175 380 163 409 C150 395 140 380 132 365 C155 345 172 320 185 290 C160 300 130 306 101 307 C96 295 91 280 88 267 C115 265 145 255 167 241 C140 240 105 238 79 232 C77 218 75 205 74 192 C110 198 150 198 185 192 C150 185 120 178 97 165 C85 145 72 120 66 95 Z" fill="url(#lgB)"/>
<path d="M79 104 C100 125 130 136 165 140 C210 142 250 122 290 120 C340 118 380 135 410 160 C430 178 460 182 492 182" fill="none" stroke="#fff" stroke-width="7" stroke-linecap="round"/>
<path d="M285 500 C265 460 258 410 272 365 C290 320 340 290 400 275 C425 270 450 268 468 268 C460 310 435 355 400 400 C365 445 325 480 285 500 Z" fill="url(#lgC)"/>
<ellipse cx="325" cy="188" rx="26" ry="7" fill="#fff"/>
</g>
</svg>
</body></html>
